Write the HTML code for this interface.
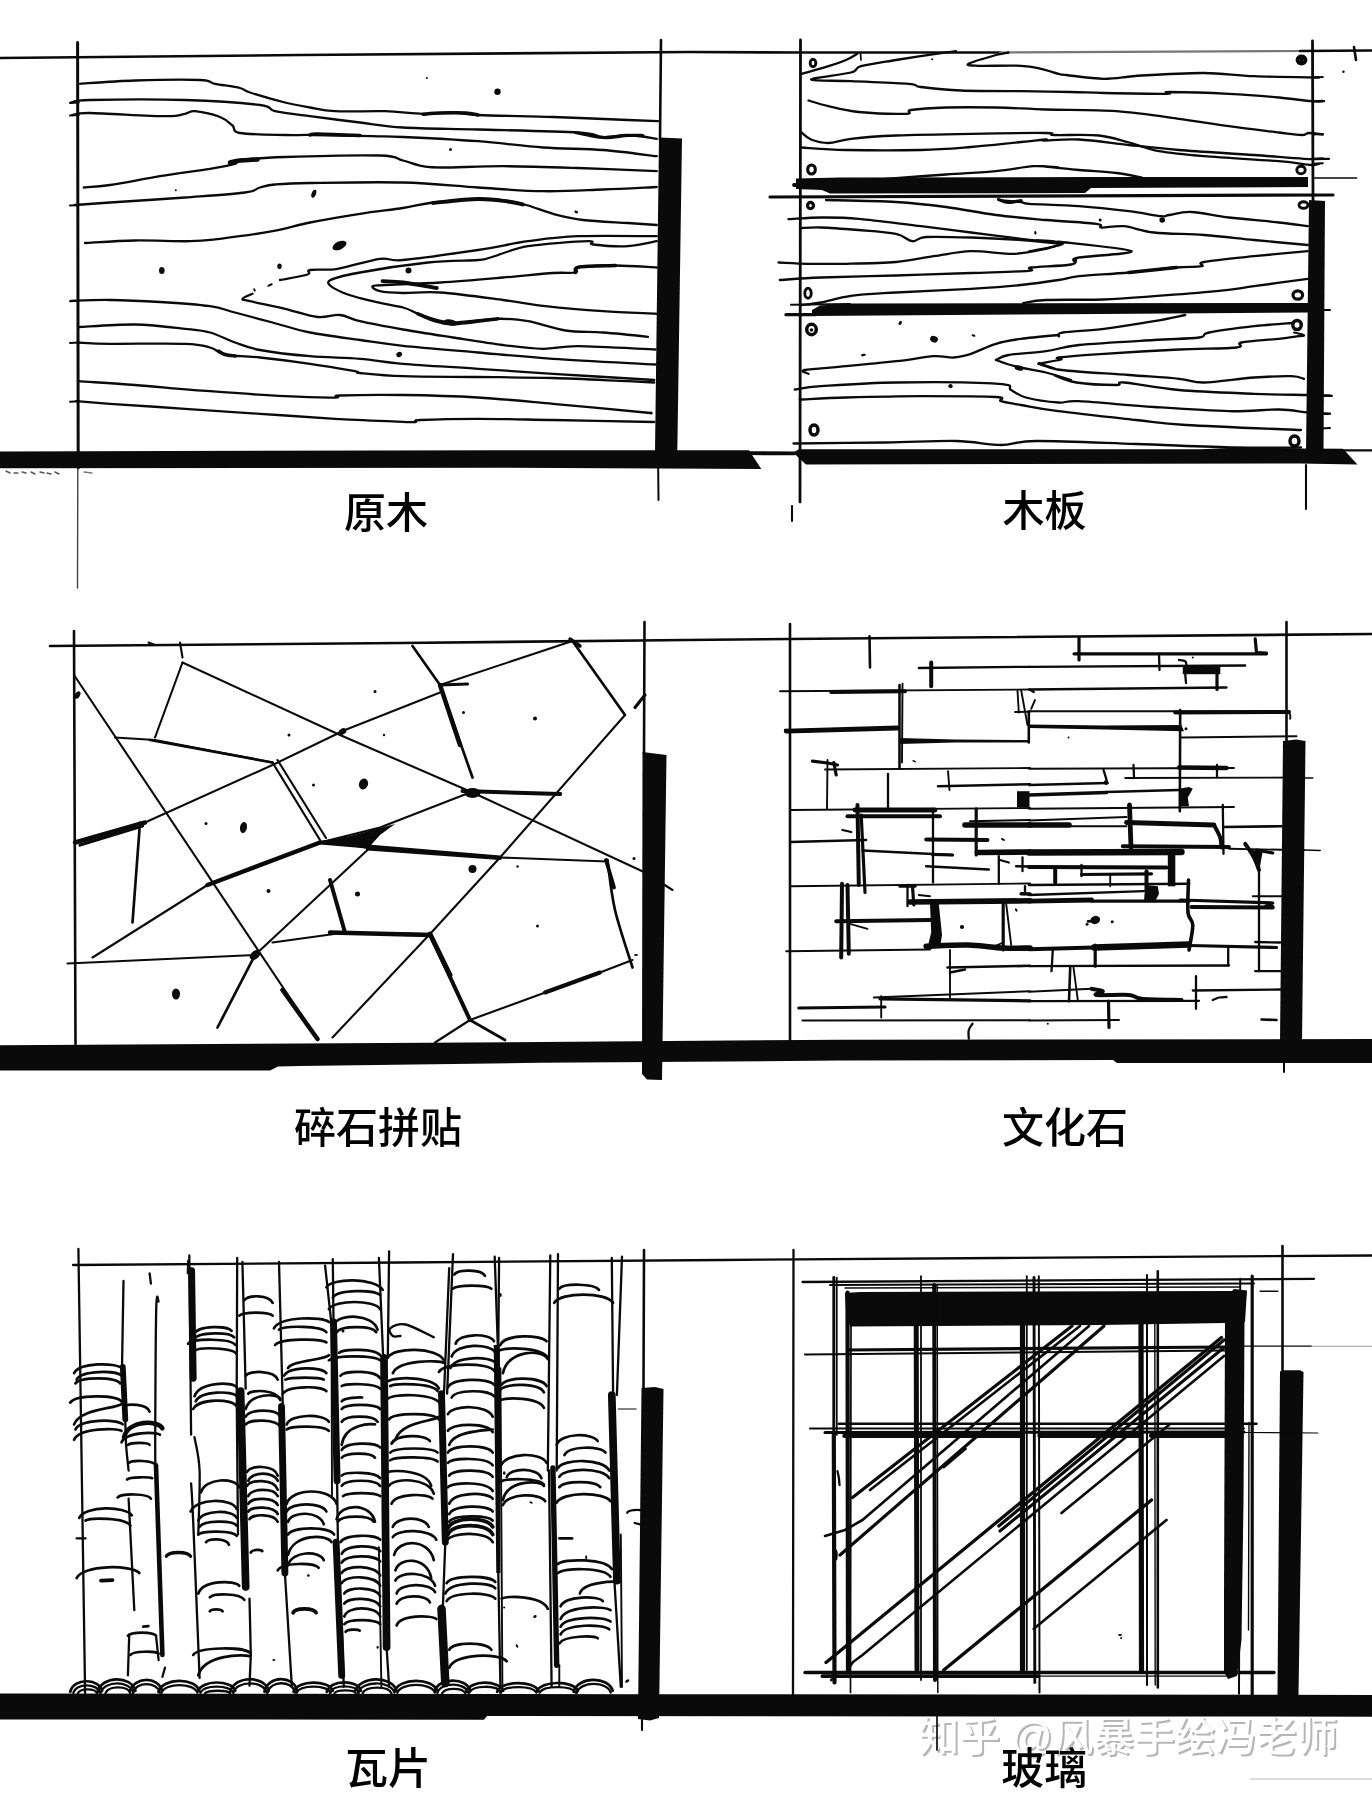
<!DOCTYPE html>
<html lang="zh"><head><meta charset="utf-8"><title>材质手绘</title>
<style>
html,body{margin:0;padding:0;background:#fff}
body{width:1372px;height:1796px;overflow:hidden;position:relative}
svg{display:block;position:absolute;left:0;top:0;will-change:transform}
svg path,svg .r{fill:none;stroke:#0a0a0a;stroke-linecap:round;stroke-linejoin:round}
svg .d{fill:#0a0a0a;stroke:none}
.wm{position:absolute;left:1128.3px;top:1712px;transform:translateX(-50%);white-space:nowrap;font:500 40.7px/50px "Liberation Sans","Noto Sans CJK SC",sans-serif;color:#fff;text-shadow:2px 2px 0 #b6b6b6;will-change:transform}
svg text{font-family:"Liberation Sans","Noto Sans CJK SC",sans-serif}
</style></head><body>
<div class="wm">知乎 @风暴手绘冯老师</div>
<svg width="1372" height="1796" viewBox="0 0 1372 1796">
<!-- p1 -->
<path d="M0 58L300 55L690 52L800 52.5L1000 52.5" stroke-width="2.6"/>
<path d="M1000 52.5L1300 51" stroke-width="2.1" style="stroke:#777"/>
<path d="M1300 51L1372 50.5" stroke-width="2.6"/>
<path d="M1354 47L1356 60" stroke-width="2.6"/>
<path d="M77.6 42.5L78.2 468" stroke-width="3"/>
<path d="M77.8 468L77.5 588" stroke-width="1.4" style="stroke:#444"/>
<path d="M661 40L660 140" stroke-width="2.6"/>
<path d="M658 452L658.5 500" stroke-width="2"/>
<polygon points="659,137.5 682,138.5 677.3,452 655,452" fill="#0a0a0a" stroke="none"/>
<polygon points="0,451.4 500,450.3 749,450.3 761.3,468.9 500,467.8 0,468.2" fill="#0a0a0a" stroke="none"/>
<path d="M749 453.2L794 453.4" stroke-width="3.8"/>
<path d="M6 471L10 473" stroke-width="1.4" style="stroke:#555"/>
<path d="M14 473L18 473" stroke-width="1.4" style="stroke:#555"/>
<path d="M22 472L26 473" stroke-width="1.4" style="stroke:#555"/>
<path d="M31 472L35 474" stroke-width="1.4" style="stroke:#555"/>
<path d="M40 472L44 473" stroke-width="1.4" style="stroke:#555"/>
<path d="M47 473L51 474" stroke-width="1.4" style="stroke:#555"/>
<path d="M55 472L59 474" stroke-width="1.4" style="stroke:#555"/>
<path d="M84 472L92 473" stroke-width="1.4" style="stroke:#777"/>
<path d="M80 83.8C89.2 83.2 115 81.1 135 80.5C155 79.9 186.7 79.5 200 80C213.3 80.5 208.3 82.4 215 83.8C221.7 85.1 234.2 86.5 240 88C245.8 89.5 242.5 90.1 250 92.5C257.5 94.9 275 100 285 102.5C295 105 301.7 106 310 107.5C318.3 109 322.5 110.6 335 111.2C347.5 111.9 370.3 110.8 385 111.2C399.7 111.7 411.7 113.5 423 113.8C434.3 114 443.8 112.3 453 112.5C462.2 112.7 461.3 114.2 478 115C494.7 115.8 528 116.2 553 117C578 117.8 610.5 119.3 628 120C645.5 120.7 653 121 658 121.2" stroke-width="2.3"/>
<path d="M423 114.2C425.9 114 433.4 113.2 440.5 113C447.6 112.8 459.2 112.7 465.5 113C471.8 113.3 475.9 114.7 478 115" stroke-width="3.5"/>
<path d="M71.2 102.5C74.4 102.1 71 100.4 90 100C109 99.6 156.7 99.2 185 100C213.3 100.8 245 103.1 260 105C275 106.9 266.7 109.4 275 111.2C283.3 113.1 295.8 114.4 310 116.2C324.2 118.1 344.5 120.6 360 122.5C375.5 124.4 383.3 126.3 403 127.5C422.7 128.7 448.8 128.7 478 129.5C507.2 130.3 557.2 131.2 578 132.5C598.8 133.8 594.7 136.6 603 137C611.3 137.4 619 134.7 628 135C637 135.3 652 138.1 656.8 138.8" stroke-width="2.3"/>
<path d="M575.5 132.5C580.1 133.3 594.2 137 603 137.5C611.8 138 621.3 135.8 628 135.5C634.7 135.2 640.5 135.5 643 135.5" stroke-width="3.2"/>
<path d="M72.5 115C75.4 114.7 74.6 112.8 90 113C105.4 113.2 149.2 116.1 165 116.2C180.8 116.4 180 114.6 185 113.8C190 112.9 189.2 110.7 195 111.2C200.8 111.8 213.8 114.6 220 117C226.2 119.4 229.2 122.8 232.5 125.5C235.8 128.2 231.2 131.4 240 133C248.8 134.6 272.9 134.7 285 135C297.1 135.3 297.9 134.8 312.5 135C327.1 135.2 357.4 135.9 372.5 136.2C387.6 136.6 385.4 136.2 403 137C420.6 137.8 454.7 139.5 478 141.2C501.3 143 522.2 146 543 147.5C563.8 149 584 148.5 603 150C622 151.5 647.8 155.2 656.8 156.2" stroke-width="2.3"/>
<path d="M310 135C311.2 134.8 309.2 133.9 317.5 134C325.8 134.1 352.9 135.2 360 135.5" stroke-width="3.5"/>
<path d="M83.8 187.5C88.1 187.1 97.3 186.9 110 185C122.7 183.1 143.3 179 160 176.2C176.7 173.5 197.5 170.8 210 168.8C222.5 166.7 230 165.2 235 163.8C240 162.3 231.7 161.1 240 160C248.3 158.9 261.7 157.8 285 157C308.3 156.2 360.3 154.9 380 155.5C399.7 156.1 395.8 158.7 403 160.5C410.2 162.3 416.3 165.1 423 166.2C429.7 167.4 429.7 167.5 443 167.5C456.3 167.5 480.5 166.2 503 166.2C525.5 166.3 552.4 167.2 578 168C603.6 168.8 643.6 170.7 656.8 171.2" stroke-width="2.3"/>
<path d="M230 162.5C231.7 162.2 235.4 161 240 160.5C244.6 160 254.6 159.7 257.5 159.5" stroke-width="4.5"/>
<path d="M75 205C80.8 204.6 91.7 203.8 110 202.5C128.3 201.2 162.5 199.2 185 197.5C207.5 195.8 232.5 194.2 245 192.5C257.5 190.8 255 188.8 260 187.5C265 186.2 266.7 185.2 275 184.5C283.3 183.8 288.7 183.3 310 183C331.3 182.7 375 181.8 403 182.5C431 183.2 454.7 186 478 187.5C501.3 189 522.2 190.9 543 191.2C563.8 191.6 584 190.2 603 189.5C622 188.8 647.8 187.4 656.8 187" stroke-width="2.3"/>
<path d="M85 243C93.3 242.6 117.5 240.8 135 240.5C152.5 240.2 175.8 241.5 190 241.2C204.2 241 206.2 240.4 220 238.8C233.8 237.1 257.5 234 272.5 231.2C287.5 228.5 295.4 225.4 310 222.5C324.6 219.6 344.5 216.2 360 213.8C375.5 211.3 390.8 209.9 403 208C415.2 206.1 420.5 204 433 202.5C445.5 201 465.5 199 478 198.8C490.5 198.5 499.7 200.1 508 201.2C516.3 202.4 520.5 203.4 528 205.5C535.5 207.6 543.8 211.3 553 213.8C562.2 216.2 570.5 218.5 583 220C595.5 221.5 615.7 222.2 628 223C640.3 223.8 652 224.7 656.8 225" stroke-width="2.3"/>
<path d="M433 203C440.5 202.3 465.5 199.2 478 199C490.5 198.8 500.5 200.6 508 201.5C515.5 202.4 520.5 204 523 204.5" stroke-width="3.8"/>
<path d="M280 280C284.6 279.1 302.5 276.2 307.5 274.5C312.5 272.8 305 271 310 270C315 269 325.8 270.6 337.5 268.8C349.2 266.9 369.1 260.2 380 258.8C390.9 257.3 386.7 261.5 403 260C419.3 258.5 457.2 253.1 478 250C498.8 246.9 511.3 243.5 528 241.2C544.7 239 556.5 237.1 578 236.2C599.5 235.4 643.6 236.2 656.8 236.2" stroke-width="2.3"/>
<ellipse class="d" cx="270" cy="285" rx="3" ry="1.2" transform="rotate(-25 270 285)"/>
<ellipse class="d" cx="254.5" cy="290" rx="1" ry="1.8" transform="rotate(-20 254.5 290)"/>
<path d="M252.5 293.8C250.8 294.6 242.9 297.5 242.5 298.8C242.1 300 242.9 299.6 250 301.2C257.1 302.9 273.8 306.1 285 308.8C296.2 311.4 308.3 316 317.5 317C326.7 318 332.9 314.3 340 315C347.1 315.7 349.5 318.8 360 321.2C370.5 323.7 387.5 326.8 403 329.5C418.5 332.2 436.3 334.9 453 337.5C469.7 340.1 488 343.1 503 345C518 346.9 530.5 348.5 543 348.8C555.5 349 559.2 346.1 578 346.2C596.8 346.4 642.6 349 655.5 349.5" stroke-width="2.3"/>
<path d="M656.8 241.2C652 242.1 638.6 245.7 628 246.2C617.4 246.8 599.7 245.3 593 244.5C586.3 243.7 598.8 241 588 241.2C577.2 241.5 544.2 243.5 528 246.2C511.8 249 498.8 255.2 490.5 257.5C482.2 259.8 488.4 259.2 478 260C467.6 260.8 447.7 260.4 428 262.5C408.3 264.6 376.5 269.4 360 272.5C343.5 275.6 331.7 277.9 328.8 281.2C325.8 284.6 335.2 289.2 342.5 292.5C349.8 295.8 362.4 298.8 372.5 301.2C382.6 303.8 395.4 305.4 403 307.5C410.6 309.6 413 311.9 418 313.8C423 315.6 427.2 317.3 433 318.8C438.8 320.2 442.2 322.5 453 322.5C463.8 322.5 485.5 319 498 318.8C510.5 318.5 516.8 319.3 528 321.2C539.2 323.2 553 328.6 565.5 330.5C578 332.4 589.2 331.5 603 332.5C616.8 333.5 640.5 336 648 336.8" stroke-width="2.3"/>
<path d="M418 313.8C420.5 314.8 427.2 318.3 433 320C438.8 321.7 442.2 324 453 323.8C463.8 323.5 490.5 319.6 498 318.8" stroke-width="3.5"/>
<ellipse class="d" cx="450.5" cy="322.5" rx="7" ry="3" transform="rotate(10 450.5 322.5)"/>
<path d="M656.8 267.5C649.9 267.2 628.4 265.6 615.5 265.5C602.6 265.4 585.9 265.8 579.2 267C572.6 268.2 579.9 271.5 575.5 272.5C571.1 273.5 565.1 272.2 553 273C540.9 273.8 521.8 275.9 503 277.5C484.2 279.1 460.2 281.2 440.5 282.5C420.8 283.8 396.3 284.4 385 285C373.7 285.6 373.3 285.2 372.5 286.2C371.7 287.3 374.9 290.1 380 291.2C385.1 292.4 392.9 292.8 403 293C413.1 293.2 423.8 291.3 440.5 292.5C457.2 293.7 485.5 297.7 503 300C520.5 302.3 528.8 304.4 545.5 306.2C562.2 308.1 584.5 310 603 311.2C621.5 312.5 647.8 313.3 656.8 313.8" stroke-width="2.3"/>
<path d="M575.5 272.5C576.1 271.6 572.6 268.2 579.2 267C585.9 265.8 609.5 265.8 615.5 265.5" stroke-width="3.5"/>
<path d="M382.5 281.2C385.9 281.5 394 281.4 403 282.5C412 283.6 431.1 287.1 436.8 288" stroke-width="3.8"/>
<path d="M71.2 300.8C77.7 300.6 95.2 299.8 110 300C124.8 300.2 143.3 301 160 302C176.7 303 197.5 304.5 210 306.2C222.5 308 224.6 309.8 235 312.5C245.4 315.2 260 319.2 272.5 322.5C285 325.8 295.4 329.6 310 332.5C324.6 335.4 344.5 337.8 360 340C375.5 342.2 383.3 343.7 403 345.8C422.7 347.8 453 350.3 478 352.5C503 354.7 523.4 356.8 553 358.8C582.6 360.8 638.4 363.5 655.5 364.5" stroke-width="2.3"/>
<path d="M78.8 327C88.1 326.6 117.3 324.2 135 324.5C152.7 324.8 172.5 327.4 185 328.8C197.5 330.1 201.7 330.2 210 332.5C218.3 334.8 226.7 339.6 235 342.5C243.3 345.4 247.5 347.7 260 350C272.5 352.3 293.3 354.8 310 356.2C326.7 357.7 344.5 357.5 360 358.8C375.5 360 383.3 362.1 403 363.8C422.7 365.4 453 367.1 478 368.8C503 370.4 523.6 371.9 553 373.8C582.4 375.6 637.4 379 654.2 380" stroke-width="2.3"/>
<path d="M77.5 342.5C82.9 342.7 92.1 343.5 110 343.8C127.9 344 168.3 343.1 185 343.8C201.7 344.4 204.2 346 210 347.5C215.8 349 216.7 351.2 220 352.5C223.3 353.8 223.3 354.7 230 355.5C236.7 356.3 246.7 356.1 260 357.5C273.3 358.9 294.2 361.5 310 363.8C325.8 366 346.7 369.7 355 371.2C363.3 372.8 352 372.2 360 373C368 373.8 383.3 375.6 403 376.2C422.7 376.9 453 376.7 478 377C503 377.3 528 377.3 553 378C578 378.7 611.1 380.5 628 381.2C644.9 382 649.9 382.3 654.2 382.5" stroke-width="2.3"/>
<path d="M218.8 351.2C219.8 351.8 222.3 353.7 225 354.5C227.7 355.3 233.3 355.8 235 356" stroke-width="3.5"/>
<path d="M78.8 381.2C88.1 381.9 113.1 383.3 135 385C156.9 386.7 185 389.4 210 391.2C235 393.1 264.2 395.2 285 396.2C305.8 397.3 325.8 397.6 335 397.5C344.2 397.4 328.7 395.9 340 395.5C351.3 395.1 380 394.7 403 395C426 395.3 453 396 478 397.5C503 399 524.2 401.2 553 403.8C581.8 406.3 634.2 411.5 650.5 413" stroke-width="2.3"/>
<path d="M76.2 401.2C81.9 401.7 91.9 402.5 110 403.8C128.1 405 160 407.1 185 408.8C210 410.4 235 412.1 260 413.8C285 415.4 311.2 417.4 335 418.8C358.8 420.1 389.6 421.2 403 421.8C416.4 422.3 412.6 422.3 415.5 422C418.4 421.7 410.1 420.5 420.5 420C430.9 419.5 455.9 418.8 478 418.8C500.1 418.8 523.6 419.5 553 420C582.4 420.5 637.4 421.7 654.2 422" stroke-width="2.3"/>
<ellipse class="d" cx="161.8" cy="270.5" rx="2.8" ry="3.5"/>
<ellipse class="d" cx="279.5" cy="266.2" rx="2.2" ry="2.8"/>
<ellipse class="d" cx="313.8" cy="193.8" rx="2.2" ry="4.2" transform="rotate(20 313.8 193.8)"/>
<ellipse class="d" cx="339.5" cy="245.5" rx="7.5" ry="4" transform="rotate(-25 339.5 245.5)"/>
<ellipse class="d" cx="175.8" cy="190.2" rx="1" ry="1"/>
<ellipse class="d" cx="399.2" cy="354.5" rx="3" ry="2.5" transform="rotate(-30 399.2 354.5)"/>
<ellipse class="d" cx="426.8" cy="78" rx="1" ry="1"/>
<ellipse class="d" cx="497.5" cy="91.8" rx="3.2" ry="3.2"/>
<ellipse class="d" cx="450.5" cy="149.5" rx="1.5" ry="1.5"/>
<ellipse class="d" cx="576.2" cy="212" rx="2" ry="1.2" transform="rotate(20 576.2 212)"/>
<ellipse class="d" cx="408.5" cy="270.5" rx="3" ry="3"/>
<ellipse class="d" cx="651.2" cy="413" rx="1.5" ry="1.5"/>
<path d="M70 103L78.8 102.5" stroke-width="2"/>
<path d="M70 115.5L78.8 115" stroke-width="2"/>
<path d="M70 205.5L78.8 205" stroke-width="2"/>
<path d="M70 301.2L78.8 300.8" stroke-width="2"/>
<path d="M70 343L78.8 342.5" stroke-width="2"/>
<path d="M70 401.8L78.8 401.2" stroke-width="2"/>
<text x="386" y="527.5" font-size="42" text-anchor="middle" font-weight="500" stroke="none" fill="#000" >原木</text>
<!-- p2 -->
<path d="M800.5 40L800 502" stroke-width="2.8"/>
<path d="M792 506L792 521" stroke-width="2.1"/>
<path d="M1312.5 41L1313 200" stroke-width="2.8"/>
<path d="M1306 465L1306 509" stroke-width="2.1"/>
<polygon points="1309,200 1325,201 1323.5,452 1306,452" fill="#0a0a0a" stroke="none"/>
<polygon points="793,452.5 799,449.2 1200,449.2 1247,447.3 1300,448.5 1343,448.8 1357.4,464.5 1300,463.4 806,464.5" fill="#0a0a0a" stroke="none"/>
<path d="M1340 450.3L1372 450.3" stroke-width="2.3"/>
<polygon points="796,178.5 840,177.5 1091,177 1308,177 1308,187 1091,188 1085,193 830,193.5 822,190 796,189" fill="#0a0a0a" stroke="none"/>
<path d="M794 185L810 185" stroke-width="3.8"/>
<path d="M770 197L1333 195" stroke-width="3.2"/>
<path d="M1312.8 178L1356.5 178" stroke-width="1.7"/>
<polygon points="812,310 820,305.5 850,303.5 1308,303 1308,312.5 1100,314 812,316" fill="#0a0a0a" stroke="none"/>
<path d="M791 304.7L850 304" stroke-width="2.1"/>
<path d="M786 314.7L815 314.7" stroke-width="3.3"/>
<path d="M1324 310L1330 310" stroke-width="2.1"/>
<path d="M801.5 73.8C806 72.5 821.1 68.5 828.5 66.2C835.9 64 841.2 62.1 846 60C850.8 57.9 855.4 54.8 857.2 53.8" stroke-width="2.3"/>
<path d="M860.5 53L861 60" stroke-width="1.7"/>
<path d="M956 51.2C952.7 51.7 946 52.3 936 53.8C926 55.2 908.5 57.9 896 60C883.5 62.1 868.5 64.2 861 66.2C853.5 68.3 859.3 70.3 851 72.5C842.7 74.7 811 78 811 79.5C811 81 834.8 80.5 851 81.2C867.2 82 896.8 82.8 908.5 83.8C920.2 84.7 912.2 85.9 921 87C929.8 88.1 944.3 89.8 961 90.5C977.7 91.2 1011 91.1 1021 91.2" stroke-width="2.3"/>
<path d="M1021 91.2C1029.3 91.4 1057.2 91.7 1071 92C1084.8 92.3 1088.1 92.7 1104 93C1119.9 93.3 1155.7 93.9 1166.5 93.8C1177.3 93.6 1158.6 92 1169 92C1179.4 92 1210.7 92.8 1229 93.8C1247.3 94.7 1265.2 96.2 1279 97.5C1292.8 98.8 1304 100.6 1311.5 101.2C1319 101.9 1321.9 101.2 1324 101.2" stroke-width="2.3"/>
<path d="M1008.5 52.5C1006.4 52.9 1002.7 53.1 996 55C989.3 56.9 971.4 62 968.5 63.8C965.6 65.5 969.8 65.4 978.5 65.8C987.2 66.1 1010.6 65.2 1021 65.8C1031.4 66.2 1034.8 67.4 1041 68.8C1047.2 70.1 1054.2 72.7 1058.5 73.8C1062.8 74.8 1058.9 74.2 1066.5 75C1074.1 75.8 1091.5 78.7 1104 78.8C1116.5 78.8 1124.8 76.5 1141.5 75.5C1158.2 74.5 1185.2 72.9 1204 73C1222.8 73.1 1234.8 75.5 1254 76.2C1273.2 77 1308.2 77.3 1319 77.5" stroke-width="2.3"/>
<path d="M808.5 100.5C811.8 101.5 820.2 104.3 828.5 106.2C836.8 108.2 845.6 110.8 858.5 112C871.4 113.2 897.2 114.1 906 113.8C914.8 113.4 904.3 111 911 110C917.7 109 931.8 107.9 946 107.5C960.2 107.1 979.3 107.2 996 107.5C1012.7 107.8 1025.9 108.9 1046 109.5C1066.1 110.1 1094.3 109.7 1116.5 111.2C1138.7 112.8 1160.2 116.2 1179 118.8C1197.8 121.2 1212.3 124 1229 126.2C1245.7 128.5 1266.9 131 1279 132.5C1291.1 134 1296.5 134.9 1301.5 135C1306.5 135.1 1305.5 133.1 1309 133C1312.5 132.9 1320.5 134.2 1322.8 134.5" stroke-width="2.3"/>
<path d="M801.5 132.5C803.1 133.7 806.5 137.8 811 139.5C815.5 141.2 821.8 143.1 828.5 143C835.2 142.9 839.8 140 851 138.8C862.2 137.5 876 136.3 896 135.5C916 134.7 946 134.2 971 133.8C996 133.3 1032.2 132.8 1046 133C1059.8 133.2 1045.2 134.6 1054 135C1062.8 135.4 1086.5 134.2 1099 135.5C1111.5 136.8 1119 139.9 1129 142.5C1139 145.1 1146.5 149 1159 151.2C1171.5 153.5 1184 154.6 1204 156.2C1224 157.9 1261.1 159.8 1279 161.2C1296.9 162.7 1304.8 164.6 1311.5 165C1318.2 165.4 1317.8 164 1319 163.8" stroke-width="2.3"/>
<path d="M801.5 147.5C808.9 147.9 826.1 149.6 846 150C865.9 150.4 900.2 150.5 921 150C941.8 149.5 954.3 148.3 971 147C987.7 145.7 1008.5 143.2 1021 142C1033.5 140.8 1042.2 139.8 1046 139.5C1049.8 139.2 1038.5 140.5 1044 140.5C1049.5 140.5 1064.8 138.8 1079 139.5C1093.2 140.2 1112.3 143.2 1129 145C1145.7 146.8 1158.2 148.3 1179 150C1199.8 151.7 1233.2 153.5 1254 155C1274.8 156.5 1291.5 158.1 1304 158.8C1316.5 159.4 1324.8 158.8 1329 158.8" stroke-width="2.3"/>
<path d="M886 178.8C896 178 927.7 175.8 946 174.5C964.3 173.2 981.4 172.6 996 171.2C1010.6 169.9 1023.1 166.9 1033.5 166.2C1043.9 165.6 1057.2 167.5 1058.5 167.5C1059.8 167.5 1038.1 165.8 1041.5 166.2C1044.9 166.7 1066.5 168.9 1079 170C1091.5 171.1 1106.1 171.8 1116.5 173C1126.9 174.2 1137.3 176.8 1141.5 177.5" stroke-width="2.3"/>
<path d="M826 200C837.7 200.3 876 200.8 896 202C916 203.2 929.3 204.8 946 207C962.7 209.2 979.3 212.8 996 215C1012.7 217.2 1029.2 218.5 1046 220C1062.8 221.5 1087.2 222.5 1096.5 223.8C1105.8 225 1096.9 227.1 1101.5 227.5C1106.1 227.9 1115.2 225.4 1124 226.2C1132.8 227.1 1140.7 231 1154 232.5C1167.3 234 1187.3 233.8 1204 235C1220.7 236.2 1236.7 238.3 1254 240C1271.3 241.7 1298.8 244.2 1307.8 245" stroke-width="2.3"/>
<path d="M1001 200.5C1004.3 200.8 1016.3 201.5 1021 202C1025.7 202.5 1019.3 203 1029 203.8C1038.7 204.5 1062.3 205 1079 206.2C1095.7 207.5 1115.2 209.6 1129 211.2C1142.8 212.9 1154.8 215.6 1161.5 216.2C1168.2 216.9 1164 215.7 1169 215C1174 214.3 1181.5 211.6 1191.5 212C1201.5 212.4 1214.4 215.8 1229 217.5C1243.6 219.2 1265.9 221 1279 222.5C1292.1 224 1303 225.6 1307.8 226.2" stroke-width="2.3"/>
<path d="M998.5 199.5C1000.2 200 1004.8 202.3 1008.5 202.5C1012.2 202.7 1018.9 200.8 1021 200.5" stroke-width="3.2"/>
<path d="M788.5 219.2C793.9 219 809.3 217.6 821 217.5C832.7 217.4 841.8 217.3 858.5 218.8C875.2 220.2 902.2 224 921 226.2C939.8 228.5 954.3 230.4 971 232.5C987.7 234.6 1006 237 1021 238.8C1036 240.5 1054.2 242.7 1061 243.2C1067.8 243.8 1049.8 240.7 1061.5 242C1073.2 243.3 1128.6 248.7 1131.5 251.2C1134.4 253.8 1088.6 255.8 1079 257.5C1069.4 259.2 1074.8 260.6 1074 261.2" stroke-width="2.3"/>
<path d="M1061 243.8C1058.5 244.6 1053.7 247.1 1046 248.8C1038.3 250.4 1027.2 253.3 1014.8 253.8C1002.2 254.2 984.5 250.8 971 251.2C957.5 251.7 946 254.5 933.5 256.2C921 258 910.6 260.8 896 262C881.4 263.2 860.6 263.5 846 263.8C831.4 264 819.8 264 808.5 263.8C797.2 263.5 783.5 262.7 778.5 262.5" stroke-width="2.3"/>
<path d="M801.5 228C804.8 227.9 811.5 227.2 821 227.5C830.5 227.8 846 229 858.5 230C871 231 887 231.9 896 233.8C905 235.6 907.2 240.7 912.2 241.2C917.2 241.8 916.2 237.6 926 237C935.8 236.4 955.2 237 971 237.5C986.8 238 1006 239 1021 240C1036 241 1054.3 243.1 1061 243.8" stroke-width="2.3"/>
<path d="M1036.5 240C1039.4 240.2 1049.6 240.5 1054 241.2C1058.4 242 1063.6 243.2 1062.8 244.2C1061.9 245.3 1054.6 246.3 1049 247.5C1043.4 248.7 1032.3 250.6 1029 251.2" stroke-width="2"/>
<path d="M779.8 280C786.6 279.6 801.6 278.2 821 277.5C840.4 276.8 871 276.2 896 275.5C921 274.8 948.9 273.8 971 273C993.1 272.2 1018.5 271.7 1028.5 270.8C1038.5 269.8 1023.9 268.5 1031 267.5C1038.1 266.5 1063.5 266 1071 264.5C1078.5 263 1075.2 259.7 1076 258.8C1076.8 257.8 1076 258.8 1076 258.8" stroke-width="2.3"/>
<path d="M801.5 305C804.8 304.6 812.8 304 821 302.5C829.2 301 838.5 297.4 851 295.8C863.5 294.1 876 293.7 896 292.5C916 291.3 950.2 290 971 288.8C991.8 287.5 1006.4 286.5 1021 285C1035.6 283.5 1048.8 281.5 1058.5 280C1068.2 278.5 1067.2 277.5 1079 276.2C1090.8 275 1112.8 274 1129 272.5C1145.2 271 1164.4 268.5 1176.5 267.5C1188.6 266.5 1196.9 267.2 1201.5 266.2C1206.1 265.3 1195.2 263.7 1204 262C1212.8 260.3 1236.7 258 1254 256.2C1271.3 254.5 1298.8 252.1 1307.8 251.2" stroke-width="2.3"/>
<path d="M1129 272.5L1176.5 267.5" stroke-width="3.5"/>
<path d="M1023.5 303C1027.2 302.5 1032.6 300.6 1046 300C1059.4 299.4 1086 300.1 1104 299.5C1122 298.9 1135.2 297.6 1154 296.2C1172.8 294.9 1199.8 292.9 1216.5 291.2C1233.2 289.6 1238.8 288.3 1254 286.2C1269.2 284.2 1298.8 280 1307.8 278.8" stroke-width="2.3"/>
<path d="M808.5 373.8C807.9 373.1 798.5 371.2 804.8 370C811 368.8 830.8 367.7 846 366.2C861.2 364.8 881.4 362.9 896 361.2C910.6 359.6 923.9 356.9 933.5 356.2C943.1 355.6 947.2 357.9 953.5 357.5C959.8 357.1 963.9 356 971 353.8C978.1 351.5 987.7 346.2 996 343.8C1004.3 341.2 1010.6 340.2 1021 338.8C1031.4 337.3 1052.2 335.6 1058.5 335" stroke-width="2.3"/>
<path d="M1058.5 335C1058.6 335.2 1058.3 336.7 1059 336.2C1059.7 335.8 1055.2 333.8 1062.8 332.5C1070.2 331.2 1088.8 330.6 1104 328.8C1119.2 326.9 1140.5 323.5 1154 321.2C1167.5 319 1180 316 1185.2 315" stroke-width="2.3"/>
<path d="M996 360C998.1 359.2 1000.2 356.5 1008.5 355C1016.8 353.5 1034.2 352.9 1046 351.2C1057.8 349.6 1061 346.9 1079 345C1097 343.1 1134 341.2 1154 340C1174 338.8 1189.8 338.8 1199 337.5C1208.2 336.2 1199.8 334.4 1209 332.5C1218.2 330.6 1240.2 327.8 1254 326.2C1267.8 324.7 1285.2 323.5 1291.5 323" stroke-width="2.3"/>
<path d="M996 360C999.1 361 1006.4 364.2 1014.8 366.2C1023.1 368.3 1036.6 370.2 1046 372.5C1055.4 374.8 1069.7 379.6 1071 380C1072.3 380.4 1053.1 374.6 1054 375C1054.9 375.4 1066.1 380.8 1076.5 382.5C1086.9 384.2 1108.6 385 1116.5 385C1124.4 385 1113.6 381.7 1124 382.5C1134.4 383.3 1157.3 388.1 1179 390C1200.7 391.9 1232.5 392.9 1254 393.8C1275.5 394.6 1294.8 394.7 1307.8 395C1320.7 395.3 1327.5 395.6 1331.5 395.8" stroke-width="2.3"/>
<ellipse class="d" cx="1019" cy="368" rx="4.5" ry="2.5" transform="rotate(15 1019 368)"/>
<path d="M1038.5 363.8C1042.2 363 1057.6 360.5 1061 359.5C1064.4 358.5 1051.8 358.5 1059 357.5C1066.2 356.5 1084 355.1 1104 353.8C1124 352.4 1156.9 350.5 1179 349.5C1201.1 348.5 1226.1 348.7 1236.5 347.5C1246.9 346.3 1234.4 344 1241.5 342.5C1248.6 341 1268.6 339.9 1279 338.8C1289.4 337.6 1299.8 336 1304 335.5" stroke-width="2.3"/>
<path d="M1038.5 363.8C1041.8 364.8 1058.4 370.1 1058.5 370C1058.6 369.9 1038.5 363 1039 363C1039.5 363 1046.5 368 1061.5 370C1076.5 372 1109.4 373.5 1129 375C1148.6 376.5 1166.5 377.5 1179 378.8C1191.5 380 1191.5 382.7 1204 382.5C1216.5 382.3 1239.4 378.5 1254 377.5C1268.6 376.5 1283.2 376 1291.5 376.2C1299.8 376.5 1301.9 378.3 1304 378.8" stroke-width="2.3"/>
<path d="M794.8 389.5C799.1 389 804.1 387.4 821 386.2C837.9 385.1 866.4 382.9 896 382.5C925.6 382.1 979.3 382.5 998.5 383.8C1017.7 385 1006.4 387.7 1011 390C1015.6 392.3 1018.1 395.4 1026 397.5C1033.9 399.6 1049.7 401.9 1058.5 402.5C1067.3 403.1 1063.1 400.5 1079 401.2C1094.9 402 1129 405.3 1154 407C1179 408.7 1208.2 410.8 1229 411.2C1249.8 411.7 1265.9 409.3 1279 409.5C1292.1 409.7 1299.4 411.8 1307.8 412.5C1316.1 413.2 1325.5 413.5 1329 413.8" stroke-width="2.3"/>
<path d="M799.8 399.5C807.5 399.2 825.8 398 846 397.5C866.2 397 896 396.3 921 396.2C946 396.2 982.7 396.2 996 397C1009.3 397.8 996.8 399.9 1001 401.2C1005.2 402.6 1011.4 403.3 1021 405C1030.6 406.7 1039.3 408.8 1058.5 411.2C1077.7 413.8 1114.8 417.7 1136 420C1157.2 422.3 1158.5 423.3 1186 425C1213.5 426.7 1281.8 429.2 1301 430" stroke-width="2.3"/>
<path d="M793.5 443.5C808.9 443.3 858.9 442.9 886 442.5C913.1 442.1 936.8 440.6 956 441C975.2 441.4 987.7 445 1001 445C1014.3 445 1013.5 441.2 1036 441C1058.5 440.8 1102.7 442.9 1136 444C1169.3 445.1 1208.5 446.9 1236 447.5C1263.5 448.1 1290.2 447.5 1301 447.5" stroke-width="2.3"/>
<path d="M1321 396L1330 395.5" stroke-width="2"/>
<path d="M1321 414L1330 413.5" stroke-width="2"/>
<path d="M1321 428.5L1330 428" stroke-width="2"/>
<ellipse class="r" cx="813" cy="63" rx="2.8" ry="3.8" stroke-width="2.9"/>
<ellipse class="r" cx="811.5" cy="169.5" rx="3.8" ry="4.5" stroke-width="3.2"/>
<ellipse class="r" cx="810.5" cy="205.5" rx="3" ry="3.2" stroke-width="3.2"/>
<ellipse class="r" cx="808" cy="293.2" rx="3.2" ry="5" stroke-width="2.9"/>
<ellipse class="r" cx="811.5" cy="329.5" rx="4.8" ry="5.2" stroke-width="3.5"/>
<ellipse class="d" cx="811.5" cy="330" rx="1.8" ry="1.8"/>
<ellipse class="r" cx="1301.5" cy="60" rx="4" ry="3.5" stroke-width="3.8"/>
<ellipse class="r" cx="1301" cy="170" rx="4.2" ry="3.8" stroke-width="2.9"/>
<ellipse class="r" cx="1303.5" cy="205" rx="4.5" ry="3.2" stroke-width="2.9"/>
<ellipse class="r" cx="1297.8" cy="295" rx="4.8" ry="4.2" stroke-width="3.2"/>
<ellipse class="r" cx="1297" cy="325" rx="4.2" ry="4.5" stroke-width="3.5"/>
<ellipse class="d" cx="1301.5" cy="60" rx="2.2" ry="2.2"/>
<path d="M1294 332.5L1302.8 334.5" stroke-width="2"/>
<ellipse class="r" cx="814" cy="430" rx="4" ry="5" stroke-width="3.5"/>
<ellipse class="r" cx="1294.5" cy="441" rx="4.5" ry="5" stroke-width="3.5"/>
<ellipse class="d" cx="934" cy="339.2" rx="4" ry="3.2" transform="rotate(20 934 339.2)"/>
<ellipse class="d" cx="900.2" cy="323" rx="1.5" ry="2.2" transform="rotate(30 900.2 323)"/>
<ellipse class="d" cx="973.5" cy="335.5" rx="2" ry="1" transform="rotate(20 973.5 335.5)"/>
<ellipse class="d" cx="863.5" cy="355" rx="2.5" ry="1.2" transform="rotate(-10 863.5 355)"/>
<ellipse class="d" cx="1035.5" cy="233" rx="1" ry="1.8"/>
<ellipse class="d" cx="950.5" cy="386.2" rx="2" ry="1.5"/>
<ellipse class="d" cx="932.2" cy="59.2" rx="1" ry="1"/>
<ellipse class="d" cx="950.5" cy="386" rx="2" ry="2"/>
<ellipse class="d" cx="1162.2" cy="220" rx="2.8" ry="2.8"/>
<ellipse class="d" cx="1100.2" cy="220" rx="1.5" ry="1.5"/>
<ellipse class="d" cx="1343.5" cy="71.8" rx="1.2" ry="1.2"/>
<ellipse class="d" cx="1035.2" cy="232.5" rx="0.8" ry="1.8"/>
<path d="M1312.8 77.5L1322.8 77" stroke-width="2"/>
<path d="M1312.8 101.2L1322.8 100.8" stroke-width="2"/>
<path d="M1312.8 134.5L1322.8 134" stroke-width="2"/>
<path d="M1312.8 158.8L1322.8 158.2" stroke-width="2"/>
<path d="M1312.8 163.8L1322.8 163.2" stroke-width="2"/>
<path d="M1325.2 395.8L1332 395.8" stroke-width="1.7"/>
<path d="M1325.2 413.8L1330.2 413.8" stroke-width="1.7"/>
<text x="1044.5" y="526" font-size="42" text-anchor="middle" font-weight="500" stroke="none" fill="#000" >木板</text>
<!-- p3 -->
<path d="M50 646L400 643L686 640L900 638L1372 634" stroke-width="2.6"/>
<path d="M74 631L75.5 1044" stroke-width="2.6"/>
<path d="M644.5 622L644 754" stroke-width="2.6"/>
<polygon points="642.5,752 666.5,755 662,1080 647,1079.5 642,1074" fill="#0a0a0a" stroke="none"/>
<polygon points="0,1045.3 300,1043.6 540,1042 840,1039.8 1372,1039 1372,1063 1117,1063 1113,1060 840,1060.6 540,1062.8 300,1066 278,1066.5 270,1070.5 0,1070.5" fill="#0a0a0a" stroke="none"/>
<path d="M74 675L317.5 1039" stroke-width="2.1"/>
<path d="M282.5 990L317.5 1039" stroke-width="4.5"/>
<path d="M182.5 662.5L155 737.5" stroke-width="2.1"/>
<path d="M180 642.5L182.5 657.5" stroke-width="2.1"/>
<path d="M148.5 642.5L155 645" stroke-width="2.1"/>
<path d="M182.5 662.5L340 735L472.5 792.5L645 872.5L672.5 890" stroke-width="2.1"/>
<path d="M115 737.5L155 740L272.5 762.5" stroke-width="2.1"/>
<path d="M150 740L272.5 762.5" stroke-width="2.7"/>
<path d="M272.5 762.5L320 840" stroke-width="2.2"/>
<path d="M277.5 760L326 838" stroke-width="2.1"/>
<path d="M75 842.5L145 822.5" stroke-width="4.5"/>
<path d="M80 845L142.5 826" stroke-width="3.2"/>
<path d="M145 822.5L272.5 765L345 730L440 692.5" stroke-width="2.1"/>
<path d="M140 822.5L132.5 922.5" stroke-width="2.7"/>
<path d="M92.5 957.5L207.5 885L320 842.5L380 827.5L470 792.5" stroke-width="2.1"/>
<path d="M207.5 885L320 842.5" stroke-width="4.5"/>
<polygon points="320,841 350,836 395,824 380,835 367.5,849 345,845" fill="#0a0a0a" stroke="none"/>
<path d="M67.5 963.5L255 955" stroke-width="2.1"/>
<path d="M217.5 1027.5L255 955" stroke-width="2.7"/>
<path d="M255 955L367.5 850" stroke-width="2.1"/>
<ellipse class="d" cx="255" cy="955" rx="6" ry="4" transform="rotate(-40 255 955)"/>
<path d="M320 842.5L500 857.5" stroke-width="4"/>
<path d="M367.5 849L500 858.5" stroke-width="3.2"/>
<path d="M500 857.5L607.5 861.5" stroke-width="2.1"/>
<path d="M272.5 942.5L345 932.5L430 934" stroke-width="2.1"/>
<path d="M330 932.5L430 935" stroke-width="4.5"/>
<path d="M330 880L345 932.5" stroke-width="4"/>
<path d="M332.5 1037.5L430 934L500 857.5L625 715" stroke-width="2.1"/>
<path d="M430 934L470 1020" stroke-width="4"/>
<path d="M430 934L450 975" stroke-width="5"/>
<path d="M470 1020L505 1040" stroke-width="2.7"/>
<path d="M435 1042.5L470 1020L600 972.5L632.5 960" stroke-width="2.1"/>
<path d="M545 992.5L600 972.5" stroke-width="4"/>
<path d="M607.5 860C608.8 868.3 610.8 892.1 615 910C619.2 927.9 629.6 957.9 632.5 967.5" stroke-width="2.7"/>
<path d="M606 860L614 887.5" stroke-width="3.8"/>
<path d="M412.5 646L440 685L472.5 777.5" stroke-width="2.7"/>
<path d="M440 685L460 745" stroke-width="4.5"/>
<path d="M440 685L572.5 641" stroke-width="2.1"/>
<path d="M570 639L580 646" stroke-width="3.5"/>
<path d="M572.5 641L625 715" stroke-width="2.7"/>
<path d="M462.5 791L560 794" stroke-width="4"/>
<ellipse class="d" cx="472.5" cy="793" rx="8" ry="5"/>
<path d="M635 707.5L645 695" stroke-width="3.2"/>
<path d="M440 685L467.5 684" stroke-width="3.2"/>
<ellipse class="d" cx="363.5" cy="784" rx="4.5" ry="5.5" transform="rotate(20 363.5 784)"/>
<ellipse class="d" cx="243.5" cy="827.5" rx="3.5" ry="5.5" transform="rotate(10 243.5 827.5)"/>
<ellipse class="d" cx="176" cy="994" rx="4" ry="5.5"/>
<ellipse class="d" cx="472.5" cy="869" rx="4" ry="4"/>
<ellipse class="d" cx="342.5" cy="731.5" rx="4" ry="3" transform="rotate(-30 342.5 731.5)"/>
<ellipse class="d" cx="535" cy="718.5" rx="2" ry="2"/>
<ellipse class="d" cx="289" cy="735" rx="1.5" ry="1.5"/>
<ellipse class="d" cx="313.5" cy="785" rx="1.5" ry="1.5"/>
<ellipse class="d" cx="206" cy="823.5" rx="1.5" ry="1.5"/>
<ellipse class="d" cx="268.5" cy="891" rx="2" ry="2"/>
<ellipse class="d" cx="357.5" cy="894" rx="2.5" ry="2.5"/>
<ellipse class="d" cx="375" cy="691.5" rx="1.5" ry="1.5"/>
<ellipse class="d" cx="463.5" cy="712.5" rx="1.5" ry="1.5"/>
<ellipse class="d" cx="384" cy="735" rx="1.2" ry="1.2"/>
<ellipse class="d" cx="537.5" cy="926" rx="1.5" ry="1.5"/>
<ellipse class="d" cx="517.5" cy="866.5" rx="1.2" ry="1.2"/>
<ellipse class="d" cx="77.5" cy="695" rx="2.5" ry="4" transform="rotate(30 77.5 695)"/>
<ellipse class="d" cx="560" cy="794" rx="2" ry="2"/>
<ellipse class="d" cx="634" cy="858.5" rx="1.5" ry="1.5"/>
<ellipse class="d" cx="636" cy="955" rx="2" ry="1"/>
<text x="378" y="1143" font-size="42" text-anchor="middle" font-weight="500" stroke="none" fill="#000" >碎石拼贴</text>
<!-- p4 -->
<path d="M790 624L790 1042" stroke-width="2.6"/>
<path d="M1286.5 622L1286.5 742" stroke-width="2.6"/>
<polygon points="1283,741 1296,739.5 1305.5,741 1302,1042 1280,1042" fill="#0a0a0a" stroke="none"/>
<path d="M1284 1040L1284 1072" stroke-width="2"/>
<path d="M1304 778L1312.8 778" stroke-width="1.6"/>
<path d="M1304 850L1320.2 850.5" stroke-width="1.6"/>
<path d="M780 691.2L1030 689.5" stroke-width="1.9"/>
<path d="M831.2 692L905 691.2" stroke-width="4"/>
<path d="M869.5 636.2L870 667.5" stroke-width="2.6"/>
<path d="M918.8 668L1030 666.8" stroke-width="2.3"/>
<path d="M931.2 662.5L931.2 686.2" stroke-width="4"/>
<path d="M786.2 731.2L897.5 728" stroke-width="4.8"/>
<path d="M785 730L810 731.2" stroke-width="2.3"/>
<path d="M899.5 685L899.5 768.8" stroke-width="2.6"/>
<path d="M902.5 683.8L902 762.5" stroke-width="1.9"/>
<polygon points="899.5,738 955,739.5 1030,740 1030,742.5 955,742.5 899.5,744" fill="#0a0a0a" stroke="none"/>
<path d="M1028.8 711.2L1028.8 742.5" stroke-width="2.6"/>
<path d="M1015 712L1030 711.8" stroke-width="1.9"/>
<path d="M1017.5 690.5L1018.8 712.5" stroke-width="1.9"/>
<path d="M1021.2 690.5L1027.5 725" stroke-width="1.9"/>
<path d="M1035 700L1031.2 708.8" stroke-width="1.9"/>
<path d="M1031.2 690.5L1033.8 692" stroke-width="2.3"/>
<path d="M825 769.5L1030 768" stroke-width="1.9"/>
<path d="M812.5 761.2L827.5 763L837.5 765" stroke-width="3.2"/>
<path d="M827.5 760L827 808.8" stroke-width="1.9"/>
<path d="M833.8 762.5L836.2 775" stroke-width="3.2"/>
<path d="M888 773.8L888 807.5" stroke-width="2.3"/>
<path d="M948 771.2L949.5 790" stroke-width="1.9"/>
<path d="M938 786.2L1030 784.2" stroke-width="2.6"/>
<rect x="1017" y="791.2" width="12.5" height="16.2" fill="#0a0a0a" stroke="none"/>
<path d="M791.2 810L1030 808" stroke-width="1.9"/>
<path d="M847.5 816.2L940 816.2" stroke-width="4"/>
<path d="M855 810L935 810" stroke-width="4.8"/>
<path d="M857.5 805L858.8 885" stroke-width="4"/>
<path d="M861.2 815L865 892.5" stroke-width="3.2"/>
<path d="M933 808.8L933 882.5" stroke-width="2.3"/>
<path d="M790 842L866.2 840" stroke-width="2.3"/>
<path d="M862.5 850.5L952.5 855" stroke-width="2.3"/>
<path d="M926.2 839.5L987.5 840" stroke-width="4"/>
<path d="M926.2 866.2L988.8 869.5" stroke-width="2.6"/>
<path d="M932.5 854.5L952.5 855" stroke-width="3.2"/>
<path d="M976.2 808.8L976.2 855" stroke-width="3.2"/>
<path d="M965 825L1030 825" stroke-width="5.6"/>
<path d="M970 821.2L1030 820" stroke-width="1.9"/>
<path d="M977.5 852.5L1030 852" stroke-width="5.6"/>
<path d="M998.8 856.2L998.8 883.8" stroke-width="2.3"/>
<path d="M1016.2 866.2L1030 866.5" stroke-width="2.6"/>
<path d="M1022.5 857.5L1022.5 871.2" stroke-width="2.3"/>
<path d="M1000 860L1008.8 862.5" stroke-width="2.3"/>
<path d="M791.2 886.2L1030 883.5" stroke-width="1.9"/>
<path d="M842 883.8L841.2 957.5" stroke-width="4"/>
<path d="M847.5 885L848.8 953.8" stroke-width="4"/>
<path d="M836.2 921.2L930 920" stroke-width="4"/>
<path d="M850 923.8L867.5 928.8" stroke-width="1.9"/>
<path d="M907.5 885L907.5 906.2" stroke-width="2.3"/>
<path d="M912.5 886.2L913.8 905" stroke-width="3.2"/>
<path d="M900 886.2L915 886.2" stroke-width="3.2"/>
<path d="M918.8 895L930 896.2" stroke-width="1.9"/>
<path d="M910 902L1030 900.8" stroke-width="5.6"/>
<path d="M1021.2 893.8L1030 894" stroke-width="3.6"/>
<path d="M1025 886.2L1025 893.8" stroke-width="2.3"/>
<polygon points="930,903.8 938.8,903.8 942,935 940,947.5 927.5,947.5 931.2,932.5" fill="#0a0a0a" stroke="none"/>
<path d="M1003.2 902.5L1003.2 950" stroke-width="3.2"/>
<path d="M1006.2 903.8L1011.2 945" stroke-width="1.9"/>
<path d="M995 946.2L1003.2 942.5" stroke-width="1.9"/>
<path d="M926.2 946.2C933.1 946 954.7 944.7 967.5 945C980.3 945.3 992.8 947.5 1003.2 948C1013.7 948.5 1025.5 948 1030 948" stroke-width="5.6"/>
<path d="M786.2 951.2L930 949.5" stroke-width="1.9"/>
<path d="M950 950L950 997.5" stroke-width="1.9"/>
<path d="M947.5 967.5L1030 965.8" stroke-width="2.6"/>
<path d="M950 972.5L965 969.5" stroke-width="2.6"/>
<path d="M873.8 997.5L1030 991.2" stroke-width="1.9"/>
<path d="M880 998.8L1030 1000.8" stroke-width="3.2"/>
<path d="M881.2 996.2L881.2 1017.5" stroke-width="1.9"/>
<path d="M798.8 1008L885 1007" stroke-width="3.2"/>
<path d="M802.5 1020.5L1030 1020.2" stroke-width="1.9"/>
<path d="M972.5 1023.8C971.9 1024.8 969.4 1027.5 968.8 1030C968.1 1032.5 968.8 1037.3 968.8 1038.8" stroke-width="2.3"/>
<path d="M842.5 830L851.2 832" stroke-width="2.3"/>
<ellipse class="d" cx="962" cy="927" rx="2.2" ry="2"/>
<ellipse class="d" cx="1016.2" cy="910" rx="1" ry="1.8" transform="rotate(-30 1016.2 910)"/>
<ellipse class="d" cx="914.2" cy="761.2" rx="2" ry="0.8" transform="rotate(20 914.2 761.2)"/>
<ellipse class="d" cx="1003" cy="839.5" rx="2.2" ry="1" transform="rotate(25 1003 839.5)"/>
<path d="M1029 689.5L1226.5 687.5" stroke-width="2.3"/>
<path d="M1029 666.8L1245.2 665.5" stroke-width="2.3"/>
<path d="M1159 653.8L1159.5 670" stroke-width="2.3"/>
<path d="M1074 653.8L1266.5 653.8" stroke-width="3.2"/>
<path d="M1079 637.5L1079 660" stroke-width="3.2"/>
<path d="M1255.2 638.8L1256.5 652.5" stroke-width="3.2"/>
<path d="M1256.5 652.5L1266.5 653" stroke-width="3.2"/>
<rect x="1182.8" y="665" width="37.5" height="9.2" fill="#0a0a0a" stroke="none"/>
<path d="M1185.2 673.8L1186 683" stroke-width="2.3"/>
<path d="M1217 673.8L1217 689.5" stroke-width="3.2"/>
<path d="M1179 660C1180 660.2 1184 660.4 1185.2 661.2C1186.5 662.1 1186.3 664.4 1186.5 665" stroke-width="2.3"/>
<path d="M1029 711.2L1289 711.2" stroke-width="1.9"/>
<path d="M1175.2 712.5L1289 712" stroke-width="4"/>
<path d="M1287.8 711.2C1288.2 711.9 1289.8 713.8 1290.2 715C1290.7 716.2 1290.2 718.1 1290.2 718.8" stroke-width="1.9"/>
<polygon points="1029,724.5 1104,725.5 1181.5,725 1184,731.2 1104,729.5 1029,728" fill="#0a0a0a" stroke="none"/>
<path d="M1180.2 710L1179.8 811.2" stroke-width="2.6"/>
<path d="M1181.5 737.5L1296.5 736.2" stroke-width="1.9"/>
<path d="M1029 768.8L1234 768" stroke-width="1.9"/>
<path d="M1179 767.5L1226.5 768" stroke-width="4.4"/>
<path d="M1133.5 765L1134 778" stroke-width="2.3"/>
<path d="M1217 765L1217 776.2" stroke-width="2.3"/>
<path d="M1125.2 778L1304 777.5" stroke-width="1.9"/>
<path d="M1029 785L1107.8 783" stroke-width="2.3"/>
<path d="M1103.5 770C1104 771.7 1106 777.7 1106.5 780C1107 782.3 1106.5 783.1 1106.5 783.8" stroke-width="2.3"/>
<ellipse class="d" cx="1106" cy="782.5" rx="2.2" ry="2.2"/>
<path d="M1029 795L1106.5 792.5" stroke-width="3.6"/>
<path d="M1106.5 792L1179 790" stroke-width="2.3"/>
<polygon points="1179,788.8 1189,787 1192.8,788.8 1187.8,797.5 1189,806.2 1179,806.2" fill="#0a0a0a" stroke="none"/>
<path d="M1029 808.8L1234 807" stroke-width="1.9"/>
<path d="M1222.8 805L1223.5 853.8" stroke-width="2.3"/>
<path d="M1224 827L1281.5 826.2" stroke-width="2.6"/>
<path d="M1029 825L1069 825" stroke-width="5.6"/>
<path d="M1029 820.5L1126.5 817" stroke-width="1.9"/>
<path d="M1069 826.2L1126.5 826.2" stroke-width="1.9"/>
<path d="M1129.5 805L1131 847.5" stroke-width="4.8"/>
<path d="M1126.5 822.5L1214 825" stroke-width="4.8"/>
<path d="M1214 825C1215 827.1 1219 833.8 1220.2 837.5C1221.5 841.2 1221.3 845.8 1221.5 847.5" stroke-width="4"/>
<path d="M1122.8 846.2L1229 847" stroke-width="4"/>
<path d="M1029 852.5L1181.5 852" stroke-width="6.4"/>
<rect x="1167.8" y="852.5" width="7.5" height="33.8" fill="#0a0a0a" stroke="none"/>
<path d="M1229 848.8L1304 850.2" stroke-width="1.9"/>
<path d="M1245.2 843.8C1246.7 846 1251.7 853.1 1254 857.5C1256.3 861.9 1258.2 867.9 1259 870" stroke-width="4"/>
<path d="M1256.5 850L1272.8 853" stroke-width="3.2"/>
<polygon points="1251.5,850 1262.8,851.2 1260.2,865 1255.2,860" fill="#0a0a0a" stroke="none"/>
<path d="M1259 850L1259 971.2" stroke-width="2.3"/>
<path d="M1029 867L1166.5 867.5" stroke-width="4"/>
<path d="M1055.2 868.8L1055.2 882.5" stroke-width="4"/>
<path d="M1081.5 874.5L1151.5 873.8" stroke-width="3.2"/>
<path d="M1081.5 865L1081.5 876.2" stroke-width="2.3"/>
<path d="M1110.2 875L1110.2 886.2" stroke-width="1.9"/>
<path d="M1146.5 871.2L1146.5 890" stroke-width="4"/>
<path d="M1029 885L1189 883.8" stroke-width="2.6"/>
<path d="M1188.5 880C1188.4 885.4 1187.3 905 1188 912.5C1188.7 920 1192.6 918.8 1192.8 925C1192.9 931.2 1189.6 945.8 1189 950" stroke-width="3.6"/>
<polygon points="1145.2,885 1157.8,886.2 1159,893.8 1155.2,901.2 1144,901.2" fill="#0a0a0a" stroke="none"/>
<path d="M1029 895L1144 891.2" stroke-width="2.3"/>
<path d="M1029 901.2L1091.5 900" stroke-width="4.8"/>
<path d="M1091.5 901.2L1189 901.2" stroke-width="3.2"/>
<path d="M1180.2 900L1272.8 903" stroke-width="3.2"/>
<path d="M1191.5 907L1272.8 907.5" stroke-width="4"/>
<ellipse class="d" cx="1269" cy="906.2" rx="5" ry="2.5"/>
<path d="M1252.8 896.2L1281.5 896.2" stroke-width="1.9"/>
<ellipse class="d" cx="1095.2" cy="920" rx="5" ry="4" transform="rotate(-20 1095.2 920)"/>
<ellipse class="d" cx="1112.2" cy="921.8" rx="1.5" ry="1.5"/>
<ellipse class="d" cx="1087" cy="924.2" rx="1.5" ry="1.5"/>
<ellipse class="d" cx="1089" cy="921.2" rx="2.5" ry="1.5"/>
<path d="M1029 949.2L1094 947.5" stroke-width="4"/>
<path d="M1094 947.5L1189 944.5" stroke-width="6.4"/>
<path d="M1189 945.5L1276.5 947.5" stroke-width="3.2"/>
<ellipse class="d" cx="1276.5" cy="947.5" rx="1.2" ry="1.2"/>
<path d="M1255.2 942L1280.2 942.5" stroke-width="2.3"/>
<path d="M1029 966.2L1229 965.5" stroke-width="2.3"/>
<path d="M1052.8 950L1051.5 971.2" stroke-width="2.3"/>
<path d="M1095.2 945L1095.2 966.2" stroke-width="3.2"/>
<path d="M1228.2 947.5L1228.2 965" stroke-width="2.3"/>
<path d="M1255.2 971.2L1281.5 971.2" stroke-width="2.3"/>
<path d="M1070.2 967.5L1069 1001.2" stroke-width="2.6"/>
<path d="M1073.5 967.5L1077.8 1000" stroke-width="1.9"/>
<path d="M1029 991.8L1091.5 988.8" stroke-width="1.9"/>
<path d="M1091.5 988.8C1093.4 989.2 1101.9 990.2 1102.8 991.2C1103.6 992.3 1092.1 994.4 1096.5 995C1100.9 995.6 1121.5 994.4 1129 995C1136.5 995.6 1132.8 997.9 1141.5 998.8C1150.2 999.6 1174.8 999.8 1181.5 1000" stroke-width="4"/>
<path d="M1029 1001.2L1199 1000.8" stroke-width="2.3"/>
<path d="M1196 976.2L1196 1008.8" stroke-width="2.3"/>
<path d="M1192.8 990.5L1281.5 989.5" stroke-width="2.3"/>
<path d="M1108.5 1001.2L1109 1027.5" stroke-width="3.2"/>
<path d="M1029 1020.5L1119 1020" stroke-width="1.9"/>
<path d="M1212.8 1000C1213.8 999.6 1216.7 998 1219 997.5C1221.3 997 1225.2 997.1 1226.5 997" stroke-width="2.3"/>
<path d="M1261.5 1019.5L1276.5 1020" stroke-width="2.6"/>
<ellipse class="d" cx="1068.5" cy="737.5" rx="1" ry="1"/>
<ellipse class="d" cx="1186" cy="728.8" rx="1.5" ry="1.5"/>
<ellipse class="d" cx="1192.8" cy="657.5" rx="1" ry="1"/>
<ellipse class="d" cx="1047.8" cy="1023.8" rx="1" ry="1"/>
<text x="1065" y="1143" font-size="42" text-anchor="middle" font-weight="500" stroke="none" fill="#000" >文化石</text>
<!-- p5 -->
<path d="M73 1265L400 1262.5L723 1260L1000 1258L1372 1255.5" stroke-width="2.3"/>
<polygon points="0,1693.6 640,1694.2 1372,1694.9 1372,1716.7 487,1716 484,1719.8 0,1719.4" fill="#0a0a0a" stroke="none"/>
<path d="M78.4 1249L85.1 1693.3" stroke-width="2.3"/>
<path d="M644 1250L643.5 1390" stroke-width="2.6"/>
<path d="M642 1715L642 1730" stroke-width="2.1"/>
<polygon points="641.5,1388 655,1387 663.5,1389 659,1718 650,1720.5 638,1719" fill="#0a0a0a" stroke="none"/>
<path d="M123.5 1281L122 1368.1" stroke-width="2.3"/>
<path d="M122.8 1366.8L125.3 1419.3" stroke-width="5.8"/>
<path d="M125.3 1419.3C125.4 1423.6 125.5 1436.4 126.1 1444.9C126.6 1453.4 128.2 1466.2 128.6 1470.5" stroke-width="2.3"/>
<path d="M128.6 1498.7L134.3 1610.1" stroke-width="2.3"/>
<path d="M158.6 1301.5C158.2 1302.3 156.9 1287 156.3 1306.6C155.7 1326.2 155.4 1392.8 155.3 1419.3C155.1 1445.8 155.3 1457.7 155.3 1465.4" stroke-width="2.3"/>
<path d="M156 1465.4L162.4 1654.9" stroke-width="4.6"/>
<path d="M149.6 1273.3L150.9 1283.5" stroke-width="2.3"/>
<path d="M189.3 1255.4L191.1 1434.7" stroke-width="2.3"/>
<path d="M191.6 1270.7L193.2 1378.3" stroke-width="6.9"/>
<path d="M194.5 1437.2C195.3 1442.8 198.9 1454.3 199.6 1470.5C200.2 1486.7 198.5 1523.9 198.3 1534.5" stroke-width="2.3"/>
<path d="M191.1 1483.3C191.5 1489.7 191.8 1489.3 193.2 1521.7C194.6 1554.2 198.5 1651.9 199.6 1678" stroke-width="2.3"/>
<path d="M188.1 1260.5L187.6 1273.3" stroke-width="1.9"/>
<path d="M237.2 1257.9L236.7 1393.7" stroke-width="2.3"/>
<path d="M242.4 1261.8L245.7 1388.6" stroke-width="2.3"/>
<path d="M240.6 1391.1L245.7 1587" stroke-width="7.7"/>
<path d="M236.7 1393.7L238 1534.5" stroke-width="2.3"/>
<path d="M249.5 1598.6L250.8 1654.9" stroke-width="2.3"/>
<path d="M250.8 1654.9L249.5 1685.7" stroke-width="2.3"/>
<path d="M279 1261.8L282.8 1406.5" stroke-width="2.3"/>
<path d="M281.5 1406.5L284.9 1573" stroke-width="6.9"/>
<path d="M284.9 1573L291.8 1685.7" stroke-width="2.3"/>
<path d="M325.1 1265.6L331.5 1324.5" stroke-width="2.3"/>
<path d="M332.8 1259.2L333.5 1322" stroke-width="2.3"/>
<path d="M333.5 1322L337.1 1480.8" stroke-width="6.9"/>
<path d="M331.5 1324.5L332 1496.1" stroke-width="1.9"/>
<path d="M337.1 1480.8L337.9 1542.2" stroke-width="2.3"/>
<path d="M336.1 1542.2L341.7 1675.4" stroke-width="6.9"/>
<path d="M341.7 1624.2L343.8 1686.9" stroke-width="2.3"/>
<path d="M378.9 1257.9L383.2 1357.8" stroke-width="2.3"/>
<path d="M389.1 1251.5L387.8 1357.8" stroke-width="2.3"/>
<path d="M384 1357.8L386.6 1647.2" stroke-width="7.7"/>
<path d="M386.6 1647.2L389.1 1686.9" stroke-width="2.3"/>
<path d="M378.9 1547.3L381.4 1686.9" stroke-width="1.9"/>
<path d="M74.1 1373.2C79.4 1362.4 116.4 1362.4 121.5 1368.1" stroke-width="2.7"/>
<path d="M76.6 1379.6C81.4 1370.2 116.4 1370.2 121.5 1375.7" stroke-width="2.7"/>
<path d="M75.4 1383.4C80.4 1376.6 115.4 1376.6 120.2 1383.4" stroke-width="2.7"/>
<path d="M70.2 1402.6C75.9 1394.5 115.8 1394.5 121.5 1401.4" stroke-width="2.7"/>
<path d="M74.1 1424.4C79.4 1408.7 116.4 1408.7 121.5 1403.9" stroke-width="2.7"/>
<path d="M75.4 1429.5C80.4 1418.8 117.4 1418.8 122.8 1424.4" stroke-width="2.7"/>
<path d="M74.1 1439.8C79.4 1427.8 116.4 1427.8 121.5 1430.8" stroke-width="2.7"/>
<path d="M124 1406.5C126.8 1403.6 146.8 1403.6 149.6 1411.6" stroke-width="2.7"/>
<path d="M79.2 1517.9C84.6 1505.7 125.5 1505.7 131.7 1515.3" stroke-width="2.7"/>
<path d="M85.6 1520.5C90.1 1517.6 125.1 1517.6 130.4 1525.6" stroke-width="2.7"/>
<path d="M76.6 1578.1C82.6 1564.6 131.5 1564.6 139.4 1573" stroke-width="2.7"/>
<path d="M121.5 1442.3C126 1431.7 155.9 1431.7 159.9 1434.7" stroke-width="2.7"/>
<path d="M127.9 1444.9C131 1442.2 148 1442.2 149.6 1444.9" stroke-width="2.7"/>
<path d="M129.2 1462.8C132 1460 152.9 1460 156 1465.4" stroke-width="2.7"/>
<path d="M127.1 1479.5C129.8 1476.8 149.4 1476.8 152.2 1478.2" stroke-width="2.7"/>
<path d="M117.6 1497.4C121.9 1493.3 147.8 1493.3 150.9 1498.7" stroke-width="2.7"/>
<path d="M127.9 1635.7C131 1631.6 152.9 1631.6 156 1635.7" stroke-width="2.7"/>
<path d="M130.4 1654.9C133.5 1650.9 155.5 1650.9 158.6 1653.6" stroke-width="2.7"/>
<path d="M194.5 1333.5C198.7 1325.4 227.7 1325.4 231.6 1330.9" stroke-width="2.7"/>
<path d="M194.5 1338.6C198.7 1331.8 229.7 1331.8 234.2 1337.3" stroke-width="2.7"/>
<path d="M188.1 1343.7C193.7 1338.2 230.7 1338.2 235.4 1345" stroke-width="2.7"/>
<path d="M195.7 1350.1C200.3 1347.3 232.2 1347.3 236.7 1354" stroke-width="2.7"/>
<path d="M194.5 1396.2C199.8 1381.5 232.8 1381.5 236.7 1387.3" stroke-width="2.7"/>
<path d="M195.7 1401.4C200.8 1390.6 232.8 1390.6 236.7 1396.2" stroke-width="2.7"/>
<path d="M193.2 1409C198.8 1398.2 232.8 1398.2 236.7 1406.5" stroke-width="2.7"/>
<path d="M200.9 1492.3C205.4 1477.4 235.3 1477.4 239.3 1487.2" stroke-width="2.7"/>
<path d="M190.6 1511.5C196.3 1497.9 232.2 1497.9 236.7 1508.9" stroke-width="2.7"/>
<path d="M198.3 1520.5C202.8 1509.6 232.8 1509.6 236.7 1517.9" stroke-width="2.7"/>
<path d="M199.6 1526.9C203.8 1520.1 232.8 1520.1 236.7 1525.6" stroke-width="2.7"/>
<path d="M198.3 1534.5C202.8 1530.4 232.8 1530.4 236.7 1535.8" stroke-width="2.7"/>
<path d="M206 1542.2C208.8 1538 226.8 1538 229 1544.8" stroke-width="2.7"/>
<path d="M198.3 1593.5C202.8 1580 234.8 1580 239.3 1585.8" stroke-width="2.7"/>
<path d="M209.8 1597.3C213.5 1593.1 240.5 1593.1 244.4 1599.9" stroke-width="2.7"/>
<path d="M209.8 1611.4C211.2 1608.6 221.2 1608.6 222.6 1611.4" stroke-width="2.7"/>
<path d="M193.2 1654.9C198.8 1646.8 242.8 1646.8 249.5 1652.4" stroke-width="2.7"/>
<path d="M198.3 1675.4C203.9 1654.2 243.9 1654.2 249.5 1656.2" stroke-width="2.7"/>
<path d="M244.4 1300.2C247.2 1294.6 269.2 1294.6 272.6 1302.8" stroke-width="2.7"/>
<path d="M239.3 1315.6C243.2 1311.5 269.2 1311.5 272.6 1315.6" stroke-width="2.7"/>
<path d="M245.7 1375.7C249.4 1370.2 274.3 1370.2 277.7 1379.6" stroke-width="2.7"/>
<path d="M248.3 1393.7C251.9 1389.4 276.9 1389.4 280.3 1400.1" stroke-width="2.7"/>
<path d="M245.7 1409C249.9 1393 276.9 1393 280.3 1398.8" stroke-width="2.7"/>
<path d="M245.7 1416.7C249.9 1408.5 276.9 1408.5 280.3 1416.7" stroke-width="2.7"/>
<path d="M245.7 1424.4C249.9 1418.9 276.9 1418.9 280.3 1427" stroke-width="2.7"/>
<path d="M247 1471.8C250.4 1464.8 274.3 1464.8 277.7 1475.6" stroke-width="2.7"/>
<path d="M248.3 1480.8C251.4 1471.2 274.3 1471.2 277.7 1480.8" stroke-width="2.7"/>
<path d="M247 1485.9C250.4 1478.9 274.3 1478.9 277.7 1489.7" stroke-width="2.7"/>
<path d="M248.3 1496.1C251.4 1487.9 274.3 1487.9 277.7 1496.1" stroke-width="2.7"/>
<path d="M248.3 1503.8C251.4 1496.9 274.3 1496.9 277.7 1505.1" stroke-width="2.7"/>
<path d="M248.3 1511.5C251.4 1505.9 274.3 1505.9 277.7 1514.1" stroke-width="2.7"/>
<path d="M249.5 1519.2C252.3 1513.6 274.3 1513.6 277.7 1521.7" stroke-width="2.7"/>
<path d="M273.9 1328.4C279.8 1316.3 322.7 1316.3 328.9 1322" stroke-width="2.7"/>
<path d="M279 1329.6C284.3 1325.5 321.3 1325.5 326.4 1332.2" stroke-width="2.7"/>
<path d="M275.1 1345C280.8 1338.3 320.7 1338.3 326.4 1342.4" stroke-width="2.7"/>
<path d="M288 1368.1C291.9 1360.3 323.9 1360.3 328.9 1355.3" stroke-width="2.7"/>
<path d="M284.1 1375.7C288.9 1366.3 321.9 1366.3 326.4 1373.2" stroke-width="2.7"/>
<path d="M285.4 1379.6C289.9 1376.9 319.9 1376.9 323.8 1379.6" stroke-width="2.7"/>
<path d="M282.8 1393.7C287.9 1385.6 321.9 1385.6 326.4 1391.1" stroke-width="2.7"/>
<path d="M286.7 1424.4C290.9 1413.6 323.9 1413.6 328.9 1421.8" stroke-width="2.7"/>
<path d="M286.7 1429.5C290.9 1425.4 323.9 1425.4 328.9 1430.8" stroke-width="2.7"/>
<path d="M286.7 1503.8C292 1487.4 331 1487.4 336.6 1503.8" stroke-width="2.7"/>
<path d="M286.7 1511.5C290.9 1501.9 321.9 1501.9 326.4 1511.5" stroke-width="2.7"/>
<path d="M288 1521.7C291.9 1510.7 319.9 1510.7 323.8 1524.3" stroke-width="2.7"/>
<path d="M288 1534.5C293 1526.3 329 1526.3 334.1 1534.5" stroke-width="2.7"/>
<path d="M288 1555C293 1533.6 327 1533.6 331.5 1542.2" stroke-width="2.7"/>
<path d="M288 1565.3C291.9 1550.4 319.9 1550.4 323.8 1560.2" stroke-width="2.7"/>
<path d="M277.7 1570.4C282.2 1562.3 314.2 1562.3 318.7 1567.8" stroke-width="2.7"/>
<path d="M326.4 1287.4C331.4 1277.7 375.4 1277.7 382.7 1289.9" stroke-width="2.7"/>
<path d="M332.8 1297.6C337.6 1289.5 374.5 1289.5 380.2 1295.1" stroke-width="2.7"/>
<path d="M328.9 1309.2C334.6 1299.6 374.5 1299.6 380.2 1309.2" stroke-width="2.7"/>
<path d="M334.1 1324.5C338.6 1313.4 372.5 1313.4 377.6 1329.6" stroke-width="2.7"/>
<path d="M336.6 1332.2C341.1 1325.4 372.1 1325.4 376.3 1332.2" stroke-width="2.7"/>
<path d="M339.2 1352.7C343.7 1348.5 375.6 1348.5 380.2 1355.3" stroke-width="2.7"/>
<path d="M328.9 1360.4C334.6 1354.9 374.5 1354.9 380.2 1360.4" stroke-width="2.7"/>
<path d="M340.5 1375.7C344.7 1370.2 375.6 1370.2 380.2 1378.3" stroke-width="2.7"/>
<path d="M341.7 1386C345.7 1383.2 375.6 1383.2 380.2 1388.6" stroke-width="2.7"/>
<path d="M341.7 1401.4C344 1397.4 360 1397.4 362.2 1397.5" stroke-width="2.7"/>
<path d="M341.7 1409C345.7 1403.6 375.6 1403.6 380.2 1409" stroke-width="2.7"/>
<path d="M341.7 1421.8C345.7 1415 373.7 1415 377.6 1421.8" stroke-width="2.7"/>
<path d="M341.7 1444.9C344.6 1423.7 370.5 1423.7 375 1424.4" stroke-width="2.7"/>
<path d="M341.7 1450C345.7 1441.9 375.6 1441.9 380.2 1447.5" stroke-width="2.7"/>
<path d="M341.7 1457.7C345.7 1452.2 371.7 1452.2 375 1457.7" stroke-width="2.7"/>
<path d="M341.7 1475.6C345.7 1471.5 375.6 1471.5 380.2 1478.2" stroke-width="2.7"/>
<path d="M341.7 1485.9C345.7 1479 375.6 1479 380.2 1485.9" stroke-width="2.7"/>
<path d="M343 1496.1C346.7 1492 375.6 1492 380.2 1496.1" stroke-width="2.7"/>
<path d="M336.6 1519.2C340.6 1502.7 370.5 1502.7 375 1521.7" stroke-width="2.7"/>
<path d="M337.9 1521.7C341.6 1514.9 369.5 1514.9 373.8 1521.7" stroke-width="2.7"/>
<path d="M340.5 1542.2C344.7 1534.1 375.6 1534.1 380.2 1539.7" stroke-width="2.7"/>
<path d="M341.7 1553.8C345.7 1544.3 375.6 1544.3 380.2 1551.2" stroke-width="2.7"/>
<path d="M341.7 1562.7C345.7 1554.6 375.6 1554.6 380.2 1561.4" stroke-width="2.7"/>
<path d="M341.7 1573C345.7 1564.7 375.6 1564.7 380.2 1575.5" stroke-width="2.7"/>
<path d="M341.7 1583.2C345.7 1574.9 375.6 1574.9 380.2 1585.8" stroke-width="2.7"/>
<path d="M344.3 1593.5C347.7 1586.5 375.6 1586.5 380.2 1596" stroke-width="2.7"/>
<path d="M344.3 1603.7C347.7 1596.8 375.6 1596.8 380.2 1606.3" stroke-width="2.7"/>
<path d="M344.3 1616.5C347.7 1605.6 375.6 1605.6 380.2 1616.5" stroke-width="2.7"/>
<path d="M344.3 1624.2C347.7 1618.7 375.6 1618.7 380.2 1624.2" stroke-width="2.7"/>
<path d="M345.6 1631.9C347 1629.2 358 1629.2 359.7 1630.6" stroke-width="2.7"/>
<path d="M124 1437.2C128 1419.9 157.9 1419.9 162.4 1428.3" stroke-width="4.6"/>
<path d="M166.3 1556.3C168.8 1551.2 187.8 1551.2 190.6 1556.3" stroke-width="3.3"/>
<path d="M293.1 1612.7C295.3 1607.5 313.3 1607.5 316.1 1612.7" stroke-width="3.8"/>
<path d="M250.8 1552.5C252.2 1549.3 261.2 1549.3 262.3 1551.2" stroke-width="2.7"/>
<path d="M76.6 1538.4L85.6 1538.4" stroke-width="2.3"/>
<path d="M101 1580.6L112.5 1580.1" stroke-width="3.8"/>
<path d="M143.2 1626.7L148.4 1626.2" stroke-width="2.7"/>
<path d="M129.2 1635.7L127.9 1675.4" stroke-width="2.3"/>
<path d="M156 1635.7L158.6 1660" stroke-width="2.3"/>
<path d="M165 1667.7L162.4 1676.7" stroke-width="2.3"/>
<ellipse class="d" cx="343" cy="1330.9" rx="1.5" ry="1.5"/>
<ellipse class="d" cx="308.4" cy="1575.5" rx="1.3" ry="1.3"/>
<ellipse class="d" cx="273.9" cy="1660" rx="1.5" ry="1"/>
<ellipse class="d" cx="377.6" cy="1647.2" rx="1" ry="1.5"/>
<path d="M453 1254.1L447.1 1393.7" stroke-width="2.3"/>
<path d="M449.2 1268.2L444 1393.7" stroke-width="2.3"/>
<path d="M441.5 1393.7L445.3 1542.2" stroke-width="6.9"/>
<path d="M445.3 1542.2L442.8 1608.8" stroke-width="2.3"/>
<path d="M441.5 1608.8L445.3 1683.1" stroke-width="8.5"/>
<path d="M494.7 1256.6L497.8 1345" stroke-width="2.3"/>
<path d="M499.1 1257.9L498.3 1345" stroke-width="2.3"/>
<polygon points="493.7,1345 499.9,1345 500.4,1573 496.3,1573" fill="#0a0a0a" stroke="none"/>
<path d="M498.3 1573L500.4 1686.9" stroke-width="2.3"/>
<path d="M500.4 1368.1L502.4 1686.9" stroke-width="1.9"/>
<path d="M550.3 1255.4L547.8 1470.5" stroke-width="2.3"/>
<path d="M558 1254.1L556.7 1470.5" stroke-width="2.3"/>
<path d="M552.9 1468L556.7 1665.2" stroke-width="5.4"/>
<path d="M549 1470.5L551.6 1686.9" stroke-width="2.3"/>
<path d="M559.3 1665.2L559.3 1686.9" stroke-width="1.9"/>
<path d="M611.8 1257.9L613.1 1395" stroke-width="2.3"/>
<path d="M622 1256.6L616.9 1395" stroke-width="2.3"/>
<path d="M611.8 1395L616.9 1580.6" stroke-width="7.7"/>
<path d="M614.4 1580.6L620.8 1686.9" stroke-width="2.3"/>
<path d="M620.8 1534.5L622 1686.9" stroke-width="1.9"/>
<path d="M387.7 1357.8C393.3 1346.8 437.3 1346.8 444 1360.4" stroke-width="2.7"/>
<path d="M392.8 1373.2C398.4 1359.9 438.4 1359.9 444 1362.9" stroke-width="2.7"/>
<path d="M389 1380.9C394.9 1376.5 433.8 1376.5 438.9 1388.6" stroke-width="2.7"/>
<path d="M390.2 1386C395.3 1383.1 432.3 1383.1 437.6 1391.1" stroke-width="2.7"/>
<path d="M387.7 1398.8C393.3 1393.2 434.3 1393.2 440.2 1403.9" stroke-width="2.7"/>
<path d="M389 1419.3C394.3 1412.5 433.3 1412.5 438.9 1419.3" stroke-width="2.7"/>
<path d="M395.4 1439.8C400.4 1421.4 434.4 1421.4 438.9 1416.7" stroke-width="2.7"/>
<path d="M391.5 1443.6C395.8 1434.1 425.7 1434.1 429.9 1441.1" stroke-width="2.7"/>
<path d="M390.2 1452.6C395.3 1447.1 432.3 1447.1 437.6 1452.6" stroke-width="2.7"/>
<path d="M390.2 1460.3C395.3 1456.1 432.3 1456.1 437.6 1461.5" stroke-width="2.7"/>
<path d="M389 1471.8C393.8 1470 426.7 1470 431.2 1485.9" stroke-width="2.7"/>
<path d="M389 1485.9C393.8 1477.4 428.7 1477.4 433.8 1493.6" stroke-width="2.7"/>
<path d="M391.5 1503.8C395.8 1493.1 427.7 1493.1 432.5 1498.7" stroke-width="2.7"/>
<path d="M392.8 1526.9C396.8 1515.9 424.7 1515.9 428.7 1526.9" stroke-width="2.7"/>
<path d="M392.8 1537.1C397.3 1528.8 431.3 1528.8 436.3 1539.7" stroke-width="2.7"/>
<path d="M394.1 1555C398.3 1538.5 429.3 1538.5 433.8 1560.2" stroke-width="2.7"/>
<path d="M395.4 1570.4C399.3 1556.5 427.3 1556.5 431.2 1578.1" stroke-width="2.7"/>
<path d="M395.4 1580.6C399.3 1570.9 430.3 1570.9 435.1 1585.8" stroke-width="2.7"/>
<path d="M396.6 1593.5C400.3 1582.6 430.3 1582.6 435.1 1592.2" stroke-width="2.7"/>
<path d="M396.6 1603.7C400.3 1594.2 426.3 1594.2 429.9 1602.4" stroke-width="2.7"/>
<path d="M396.6 1625.5C400.3 1614.8 431.3 1614.8 436.3 1619.1" stroke-width="2.7"/>
<path d="M454.3 1274.6C457.7 1269.1 481.6 1269.1 485 1275.9" stroke-width="2.7"/>
<path d="M453 1288.7C456.7 1284.6 486.6 1284.6 491.4 1288.7" stroke-width="2.7"/>
<path d="M455.6 1343.7C459.2 1332.9 489.2 1332.9 494 1341.2" stroke-width="2.7"/>
<path d="M451.7 1356.5C456.2 1343 490.2 1343 495.3 1352.7" stroke-width="2.7"/>
<path d="M450.4 1368.1C455.2 1355.9 490.2 1355.9 495.3 1362.9" stroke-width="2.7"/>
<path d="M438.9 1371.9C445.1 1362.4 488.1 1362.4 494 1370.6" stroke-width="2.7"/>
<path d="M447.9 1387.3C452.7 1377.8 488.6 1377.8 494 1384.7" stroke-width="2.7"/>
<path d="M451.7 1397.5C455.7 1389.4 488.6 1389.4 494 1396.2" stroke-width="2.7"/>
<path d="M447.9 1414.2C452.7 1404.5 487.6 1404.5 492.7 1416.7" stroke-width="2.7"/>
<path d="M447.9 1430.8C452.7 1422.6 487.6 1422.6 492.7 1432.1" stroke-width="2.7"/>
<path d="M449.2 1444.9C453.7 1430.4 487.6 1430.4 492.7 1429.5" stroke-width="2.7"/>
<path d="M447.9 1452.6C452.7 1444.4 487.6 1444.4 492.7 1452.6" stroke-width="2.7"/>
<path d="M447.9 1462.8C452.7 1457.3 487.6 1457.3 492.7 1465.4" stroke-width="2.7"/>
<path d="M449.2 1475.6C453.7 1468.8 487.6 1468.8 492.7 1476.9" stroke-width="2.7"/>
<path d="M447.9 1487.2C452.7 1481.6 487.6 1481.6 492.7 1491" stroke-width="2.7"/>
<path d="M449.2 1503.8C453.7 1491.7 487.6 1491.7 492.7 1498.7" stroke-width="2.7"/>
<path d="M449.2 1514.1C453.7 1504.6 487.6 1504.6 492.7 1511.5" stroke-width="2.7"/>
<path d="M449.2 1521.7C453.7 1514.9 487.6 1514.9 492.7 1520.5" stroke-width="2.7"/>
<path d="M446.6 1540.9C451.7 1531.3 487.6 1531.3 492.7 1542.2" stroke-width="2.7"/>
<path d="M446.6 1583.2C451.7 1575.1 489.6 1575.1 495.3 1581.9" stroke-width="2.7"/>
<path d="M445.3 1593.5C450.7 1581.3 489.6 1581.3 495.3 1588.3" stroke-width="2.7"/>
<path d="M446.6 1601.1C451.7 1591.7 489.6 1591.7 495.3 1598.6" stroke-width="2.7"/>
<path d="M449.2 1649.8C453.1 1641.6 486.1 1641.6 491.4 1649.8" stroke-width="2.7"/>
<path d="M449.2 1667.7C454.8 1652.9 499.7 1652.9 506.8 1661.3" stroke-width="2.7"/>
<path d="M500.4 1345C504.3 1334.2 540.3 1334.2 546.5 1341.2" stroke-width="2.7"/>
<path d="M500.4 1350.1C505.4 1347.1 542.4 1347.1 547.8 1357.8" stroke-width="2.7"/>
<path d="M502.9 1373.2C508 1349.1 543 1349.1 547.8 1359.1" stroke-width="2.7"/>
<path d="M501.7 1384.7C506.4 1376.5 541.4 1376.5 546.5 1386" stroke-width="2.7"/>
<path d="M500.4 1389.8C505.4 1382.9 539.4 1382.9 543.9 1392.4" stroke-width="2.7"/>
<path d="M500.4 1400.1C505.4 1397.1 539.4 1397.1 543.9 1407.8" stroke-width="2.7"/>
<path d="M500.4 1466.7C505.4 1451.8 541.4 1451.8 546.5 1462.8" stroke-width="2.7"/>
<path d="M506.8 1476.9C510.4 1467.3 537.4 1467.3 541.4 1478.2" stroke-width="2.7"/>
<path d="M500.4 1482C505.4 1477.9 539.4 1477.9 543.9 1484.6" stroke-width="2.7"/>
<path d="M502.9 1500C507.4 1479.9 539.4 1479.9 543.9 1485.9" stroke-width="2.7"/>
<path d="M502.9 1505.1C507.4 1492.9 540.4 1492.9 545.2 1501.2" stroke-width="2.7"/>
<path d="M501.7 1598.6C506.4 1595.5 542.4 1595.5 547.8 1608.8" stroke-width="2.7"/>
<path d="M559.3 1288.7C563.2 1283.2 594.2 1283.2 599 1289.9" stroke-width="2.7"/>
<path d="M554.2 1302.8C560.4 1291.8 606.3 1291.8 613.1 1302.8" stroke-width="2.7"/>
<path d="M556.7 1444.9C560.7 1432.7 592.6 1432.7 597.7 1441.1" stroke-width="2.7"/>
<path d="M564.4 1455.1C568.9 1445.7 600.9 1445.7 605.4 1452.6" stroke-width="2.7"/>
<path d="M558 1468C563.4 1458.3 603.3 1458.3 609.2 1470.5" stroke-width="2.7"/>
<path d="M559.3 1476.9C564.4 1467.3 603.3 1467.3 609.2 1478.2" stroke-width="2.7"/>
<path d="M559.3 1487.2C563.8 1480.3 595.8 1480.3 600.3 1487.2" stroke-width="2.7"/>
<path d="M556.7 1502.5C562.4 1491.6 604.3 1491.6 610.5 1501.2" stroke-width="2.7"/>
<path d="M558 1564C563.4 1558.4 605.3 1558.4 611.8 1569.1" stroke-width="2.7"/>
<path d="M558 1573C563.4 1567.4 604.3 1567.4 610.5 1576.8" stroke-width="2.7"/>
<path d="M579.8 1593.5C583.2 1581.5 614.1 1581.5 619.5 1581.9" stroke-width="2.7"/>
<path d="M560.6 1606.3C565.4 1595.5 598.3 1595.5 602.8 1601.1" stroke-width="2.7"/>
<path d="M560.6 1619.1C565.4 1605.7 604.3 1605.7 610.5 1610.1" stroke-width="2.7"/>
<path d="M560.6 1626.7C565.4 1616 604.3 1616 610.5 1621.6" stroke-width="2.7"/>
<path d="M560.6 1634.4C565.4 1623.7 603.3 1623.7 609.2 1629.3" stroke-width="2.7"/>
<path d="M559.3 1643.4C564.4 1635.4 594.3 1635.4 597.7 1638.3" stroke-width="2.7"/>
<path d="M447.9 1528.1C452.7 1516.4 487.6 1516.4 492.7 1526.9" stroke-width="3.8"/>
<path d="M447.9 1534.5C452.7 1522.6 487.6 1522.6 492.7 1534.5" stroke-width="3.8"/>
<path d="M433.8 1337.3C429.1 1335.2 412.9 1326 405.6 1324.5C398.4 1323 392.4 1326.4 390.2 1328.4C388.1 1330.3 391.1 1334.8 392.8 1336C394.5 1337.3 399.2 1336 400.5 1336" stroke-width="2.3"/>
<path d="M559.3 1538.4L572.1 1538.4" stroke-width="2.7"/>
<path d="M627.2 1512.8C628.6 1509.8 638.6 1509.8 640 1510.2" stroke-width="2.3"/>
<path d="M634.8 1523L640 1524.3" stroke-width="2.3"/>
<path d="M618.2 1409L636.1 1409" stroke-width="1.2"/>
<ellipse class="d" cx="535" cy="1616.5" rx="1.8" ry="1.3" transform="rotate(-30 535 1616.5)"/>
<ellipse class="d" cx="531.1" cy="1502.5" rx="1.8" ry="1" transform="rotate(30 531.1 1502.5)"/>
<ellipse class="d" cx="504.2" cy="1473.1" rx="1.3" ry="1.8"/>
<ellipse class="d" cx="517" cy="1646" rx="1" ry="2" transform="rotate(-30 517 1646)"/>
<ellipse class="d" cx="586.2" cy="1557.6" rx="1" ry="2.3"/>
<ellipse class="d" cx="500.4" cy="1295.1" rx="1.3" ry="2"/>
<ellipse class="d" cx="627.2" cy="1681" rx="2.3" ry="1.3" transform="rotate(-30 627.2 1681)"/>
<ellipse class="d" cx="504.2" cy="1607.5" rx="1" ry="1"/>
<ellipse class="d" cx="505.5" cy="1660" rx="1.8" ry="1" transform="rotate(30 505.5 1660)"/>
<path d="M70.2 1691.8C73.7 1677.9 98.6 1677.9 102.1 1690.8" stroke-width="2.7"/>
<path d="M73.3 1692.8C76.1 1682.9 97 1682.9 100 1692.6" stroke-width="2.3"/>
<path d="M77.9 1693.3C80.3 1688.1 95.1 1688.1 97 1693.3" stroke-width="2.3"/>
<path d="M97.7 1691.8C101.9 1675.3 131.3 1675.3 135.5 1690.8" stroke-width="2.7"/>
<path d="M100.8 1692.8C104.3 1680.3 129.7 1680.3 133.4 1692.6" stroke-width="2.3"/>
<path d="M105.4 1693.3C108.4 1685.5 127.9 1685.5 130.4 1693.3" stroke-width="2.3"/>
<path d="M129.9 1691.8C133.5 1676.2 158.5 1676.2 162.1 1690.8" stroke-width="2.7"/>
<path d="M133 1692.8C135.9 1681.2 156.9 1681.2 160 1692.6" stroke-width="2.3"/>
<path d="M158.4 1691.8C162.9 1677.5 194.9 1677.5 199.4 1690.8" stroke-width="2.7"/>
<path d="M161.5 1692.8C165.3 1682.5 193.3 1682.5 197.4 1692.6" stroke-width="2.3"/>
<path d="M197.4 1691.8C201.5 1679.6 231.1 1679.6 235.3 1690.8" stroke-width="2.7"/>
<path d="M200.4 1692.8C203.9 1684.6 229.5 1684.6 233.2 1692.6" stroke-width="2.3"/>
<path d="M205 1693.3C208.1 1689.9 227.7 1689.9 230.2 1693.3" stroke-width="2.3"/>
<path d="M230.2 1691.8C234.5 1675.2 264.5 1675.2 268.7 1690.8" stroke-width="2.7"/>
<path d="M233.3 1692.8C236.8 1680.2 262.9 1680.2 266.7 1692.6" stroke-width="2.3"/>
<path d="M264.4 1691.8C268 1675.1 293.6 1675.1 297.2 1690.8" stroke-width="2.7"/>
<path d="M267.5 1692.8C270.4 1680.1 292 1680.1 295.2 1692.6" stroke-width="2.3"/>
<path d="M293.5 1691.8C297.8 1679.7 328.4 1679.7 332.7 1690.8" stroke-width="2.7"/>
<path d="M296.6 1692.8C300.2 1684.7 326.8 1684.7 330.7 1692.6" stroke-width="2.3"/>
<path d="M326.7 1691.8C330.5 1679.3 357.2 1679.3 361 1690.8" stroke-width="2.7"/>
<path d="M329.8 1692.8C332.9 1684.3 355.6 1684.3 358.9 1692.6" stroke-width="2.3"/>
<path d="M334.4 1693.3C337 1689.5 353.8 1689.5 355.8 1693.3" stroke-width="2.3"/>
<path d="M354.9 1691.8C359.5 1675.4 392 1675.4 396.6 1690.8" stroke-width="2.7"/>
<path d="M358 1692.8C361.9 1680.4 390.4 1680.4 394.5 1692.6" stroke-width="2.3"/>
<path d="M362.6 1693.3C366 1685.7 388.6 1685.7 391.5 1693.3" stroke-width="2.3"/>
<path d="M394.2 1691.8C398.9 1677.3 432.5 1677.3 437.2 1690.8" stroke-width="2.7"/>
<path d="M397.3 1692.8C401.3 1682.3 430.9 1682.3 435.1 1692.6" stroke-width="2.3"/>
<path d="M434.4 1691.8C438.3 1677 466.4 1677 470.3 1690.8" stroke-width="2.7"/>
<path d="M437.4 1692.8C440.7 1682 464.8 1682 468.3 1692.6" stroke-width="2.3"/>
<path d="M442.1 1693.3C444.9 1687.3 462.9 1687.3 465.2 1693.3" stroke-width="2.3"/>
<path d="M466.1 1691.8C470.1 1679.8 499.1 1679.8 503.2 1690.8" stroke-width="2.7"/>
<path d="M469.1 1692.8C472.5 1684.8 497.5 1684.8 501.2 1692.6" stroke-width="2.3"/>
<path d="M497.2 1691.8C501.7 1680.3 534 1680.3 538.5 1690.8" stroke-width="2.7"/>
<path d="M500.2 1692.8C504.1 1685.3 532.4 1685.3 536.5 1692.6" stroke-width="2.3"/>
<path d="M536.4 1691.8C540.9 1680.2 573.2 1680.2 577.8 1690.8" stroke-width="2.7"/>
<path d="M539.5 1692.8C543.3 1685.2 571.6 1685.2 575.7 1692.6" stroke-width="2.3"/>
<path d="M573.6 1691.8C577.9 1676.1 608.4 1676.1 612.7 1690.8" stroke-width="2.7"/>
<path d="M576.7 1692.8C580.3 1681 606.8 1681 610.7 1692.6" stroke-width="2.3"/>
<text x="388" y="1783.5" font-size="43" text-anchor="middle" font-weight="500" stroke="none" fill="#000" >瓦片</text>
<!-- p6 -->
<path d="M793.5 1250L793 1695" stroke-width="2.3"/>
<path d="M1282.5 1246L1282.5 1372" stroke-width="2.6"/>
<polygon points="1280,1371.5 1283,1370.2 1300,1370.2 1303.5,1372 1298.5,1695 1277.5,1695" fill="#0a0a0a" stroke="none"/>
<polygon points="845,1293 860,1292 1232,1291 1234,1289 1247,1290.5 1245,1322 1226,1323 1100,1325 850,1326.5 846,1310" fill="#0a0a0a" stroke="none"/>
<polygon points="1225,1320 1244.5,1320 1243.5,1500 1241.5,1640 1237,1676 1228,1679 1224,1672 1224,1600" fill="#0a0a0a" stroke="none"/>
<path d="M802.5 1282L1314 1278.8" stroke-width="2.3"/>
<path d="M830 1285L1254 1283.5" stroke-width="2"/>
<path d="M845 1288L1240 1287" stroke-width="1.4"/>
<path d="M1260.2 1291.2L1277.8 1291.2" stroke-width="1.4"/>
<path d="M833.8 1277.5L833.8 1432.5" stroke-width="2.9"/>
<path d="M833.8 1432.5L834.5 1682.5" stroke-width="4.2"/>
<path d="M836.8 1277.5L836.8 1435" stroke-width="1.7"/>
<path d="M847.5 1292.5L848 1672.5" stroke-width="4.2"/>
<path d="M851 1326.2L850.5 1692.5" stroke-width="1.7"/>
<path d="M837.5 1471.2C837.7 1472.3 838.4 1475.2 838.8 1477.5C839.1 1479.8 839.4 1483.8 839.5 1485" stroke-width="2.3"/>
<ellipse class="d" cx="836.2" cy="1555" rx="1.5" ry="5.5"/>
<path d="M831.2 1680L836.2 1675" stroke-width="2.6"/>
<path d="M916.2 1326.2L917 1670" stroke-width="5"/>
<path d="M921 1276.2L921 1680" stroke-width="1.8"/>
<path d="M934.2 1285L935 1680" stroke-width="4"/>
<path d="M937.2 1285L937.8 1692.5" stroke-width="1.5"/>
<path d="M1022.5 1326.2L1022.5 1670" stroke-width="5.2"/>
<path d="M1026.8 1276.2L1026.8 1670" stroke-width="1.8"/>
<path d="M1034 1277.5L1034.8 1682.5" stroke-width="2.9"/>
<path d="M1038.8 1276.2L1039.5 1692.5" stroke-width="2"/>
<path d="M1141 1322.5L1141.5 1670" stroke-width="5.2"/>
<path d="M1147 1275L1147 1685" stroke-width="2"/>
<path d="M1157.8 1271.2L1157.8 1687.5" stroke-width="2.6"/>
<path d="M1154.8 1322.5L1155.2 1685" stroke-width="1.4"/>
<path d="M1240.2 1278.8L1239 1693.8" stroke-width="2"/>
<path d="M1252.2 1276.2L1252.2 1695" stroke-width="3.2"/>
<path d="M1249 1422.5L1248.5 1630" stroke-width="1.4"/>
<path d="M847.5 1350L1225 1347" stroke-width="3.2"/>
<path d="M805 1354.5L1225 1350.5" stroke-width="2.1"/>
<path d="M1244 1346.2L1311.5 1346.2" stroke-width="1.2"/>
<path d="M1311.5 1346.2L1372 1346.2" stroke-width="1.1" style="stroke:#999"/>
<path d="M838.8 1423.8L1256.5 1423.8" stroke-width="2.5"/>
<path d="M810 1428.5L1244 1428.5" stroke-width="2.1"/>
<path d="M825 1432.5L1244 1432" stroke-width="3.1"/>
<path d="M845 1435.5L1020 1435.5" stroke-width="5.2"/>
<path d="M1040 1435.5L1139 1435.5" stroke-width="5.2"/>
<path d="M1151.5 1435.5L1225 1435.5" stroke-width="5"/>
<path d="M1244 1432.5L1317.8 1433" stroke-width="1.2"/>
<path d="M805 1672.5L1274 1672.5" stroke-width="3.4"/>
<path d="M822.5 1676.2L1037.5 1676.2" stroke-width="3.8"/>
<path d="M1037.5 1676.2L1229 1676.2" stroke-width="1.2"/>
<path d="M852.5 1497.5L1072 1326" stroke-width="3.2"/>
<path d="M870 1490L1080 1326" stroke-width="2.6"/>
<path d="M825 1536L845 1530L862.5 1520L1089 1326" stroke-width="2.6"/>
<path d="M840 1555L1104 1326" stroke-width="3.2"/>
<path d="M943.8 1467.5L966 1448.8" stroke-width="2"/>
<path d="M826 1662.5L1221.5 1337.5" stroke-width="3.3"/>
<path d="M998.8 1526L1224 1340" stroke-width="3.2"/>
<path d="M1000 1531L1224 1347.5" stroke-width="3.1"/>
<path d="M847.5 1670L853 1662L862.5 1655L1224 1356" stroke-width="2.6"/>
<path d="M1061.5 1513L1169 1425" stroke-width="2.7"/>
<path d="M943.8 1670L1151.5 1500" stroke-width="3.4"/>
<path d="M1033.8 1628.8L1166.5 1520" stroke-width="2.7"/>
<ellipse class="d" cx="1120" cy="1635" rx="2" ry="1"/>
<ellipse class="d" cx="1121.2" cy="1638" rx="1" ry="1"/>
<text x="1044.3" y="1783.5" font-size="43" text-anchor="middle" font-weight="500" stroke="none" fill="#000" >玻璃</text>
<path d="M937 1716L937 1750" stroke-width="1.7"/>
<path d="M1251 1779L1372 1779" stroke-width="2" style="stroke:#ddd"/>
</svg>
</body></html>
